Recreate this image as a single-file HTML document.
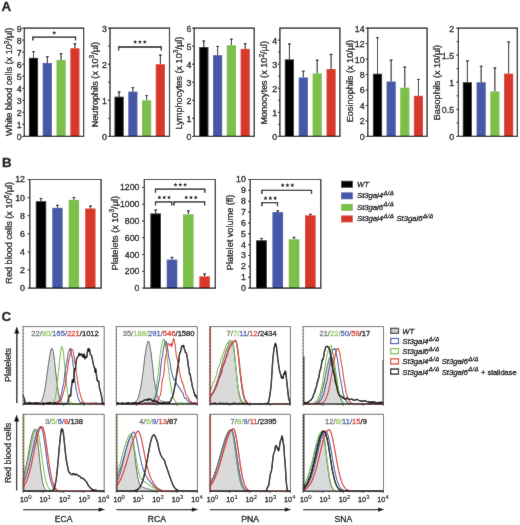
<!DOCTYPE html><html><head><meta charset="utf-8"><style>html,body{margin:0;padding:0;background:#fff;width:520px;height:525px;overflow:hidden}svg{display:block}</style></head><body><svg width="520" height="525" viewBox="0 0 520 525">
<rect width="520" height="525" fill="#fff"/>
<defs><filter id="bl" x="0" y="0" width="520" height="525" filterUnits="userSpaceOnUse"><feConvolveMatrix order="3" kernelMatrix="1 2 1 2 40.0 2 1 2 1" preserveAlpha="true" edgeMode="duplicate"/></filter></defs><g filter="url(#bl)"><rect width="520" height="525" fill="#fff"/>
<text x="1.4" y="10.9" font-size="13.4" font-weight="bold" font-family="Liberation Sans, sans-serif" stroke="#000" stroke-width="0.28">A</text>
<text x="1.9" y="167.0" font-size="13.4" font-weight="bold" font-family="Liberation Sans, sans-serif" stroke="#000" stroke-width="0.28">B</text>
<text x="1.4" y="320.9" font-size="13.4" font-weight="bold" font-family="Liberation Sans, sans-serif" stroke="#000" stroke-width="0.28">C</text>
<line x1="33.50" y1="57.82" x2="33.50" y2="51.32" stroke="#000" stroke-width="1.0"/>
<line x1="32.10" y1="51.62" x2="34.90" y2="51.62" stroke="#000" stroke-width="1.1"/>
<rect x="28.90" y="57.82" width="9.20" height="78.58" fill="#000000"/>
<line x1="47.30" y1="63.00" x2="47.30" y2="56.38" stroke="#000" stroke-width="1.0"/>
<line x1="45.90" y1="56.68" x2="48.70" y2="56.68" stroke="#000" stroke-width="1.1"/>
<rect x="42.70" y="63.00" width="9.20" height="73.40" fill="#4659a8"/>
<line x1="61.10" y1="59.99" x2="61.10" y2="53.37" stroke="#000" stroke-width="1.0"/>
<line x1="59.70" y1="53.67" x2="62.50" y2="53.67" stroke="#000" stroke-width="1.1"/>
<rect x="56.50" y="59.99" width="9.20" height="76.41" fill="#7cbf4a"/>
<line x1="74.90" y1="48.20" x2="74.90" y2="43.50" stroke="#000" stroke-width="1.0"/>
<line x1="73.50" y1="43.80" x2="76.30" y2="43.80" stroke="#000" stroke-width="1.1"/>
<rect x="70.30" y="48.20" width="9.20" height="88.20" fill="#d8392b"/>
<path d="M24.30,28.10H83.60V136.40H24.30Z" fill="none" stroke="#000" stroke-width="1.2"/>
<line x1="22.10" y1="136.40" x2="24.30" y2="136.40" stroke="#000" stroke-width="0.9"/>
<text x="21.60" y="139.87" font-size="8.8" text-anchor="end" font-family="Liberation Sans, sans-serif" stroke="#000" stroke-width="0.28">0</text>
<line x1="22.10" y1="124.37" x2="24.30" y2="124.37" stroke="#000" stroke-width="0.9"/>
<text x="21.60" y="127.83" font-size="8.8" text-anchor="end" font-family="Liberation Sans, sans-serif" stroke="#000" stroke-width="0.28">1</text>
<line x1="22.10" y1="112.33" x2="24.30" y2="112.33" stroke="#000" stroke-width="0.9"/>
<text x="21.60" y="115.80" font-size="8.8" text-anchor="end" font-family="Liberation Sans, sans-serif" stroke="#000" stroke-width="0.28">2</text>
<line x1="22.10" y1="100.30" x2="24.30" y2="100.30" stroke="#000" stroke-width="0.9"/>
<text x="21.60" y="103.77" font-size="8.8" text-anchor="end" font-family="Liberation Sans, sans-serif" stroke="#000" stroke-width="0.28">3</text>
<line x1="22.10" y1="88.27" x2="24.30" y2="88.27" stroke="#000" stroke-width="0.9"/>
<text x="21.60" y="91.73" font-size="8.8" text-anchor="end" font-family="Liberation Sans, sans-serif" stroke="#000" stroke-width="0.28">4</text>
<line x1="22.10" y1="76.23" x2="24.30" y2="76.23" stroke="#000" stroke-width="0.9"/>
<text x="21.60" y="79.70" font-size="8.8" text-anchor="end" font-family="Liberation Sans, sans-serif" stroke="#000" stroke-width="0.28">5</text>
<line x1="22.10" y1="64.20" x2="24.30" y2="64.20" stroke="#000" stroke-width="0.9"/>
<text x="21.60" y="67.67" font-size="8.8" text-anchor="end" font-family="Liberation Sans, sans-serif" stroke="#000" stroke-width="0.28">6</text>
<line x1="22.10" y1="52.17" x2="24.30" y2="52.17" stroke="#000" stroke-width="0.9"/>
<text x="21.60" y="55.63" font-size="8.8" text-anchor="end" font-family="Liberation Sans, sans-serif" stroke="#000" stroke-width="0.28">7</text>
<line x1="22.10" y1="40.13" x2="24.30" y2="40.13" stroke="#000" stroke-width="0.9"/>
<text x="21.60" y="43.60" font-size="8.8" text-anchor="end" font-family="Liberation Sans, sans-serif" stroke="#000" stroke-width="0.28">8</text>
<line x1="22.10" y1="28.10" x2="24.30" y2="28.10" stroke="#000" stroke-width="0.9"/>
<text x="21.60" y="31.57" font-size="8.8" text-anchor="end" font-family="Liberation Sans, sans-serif" stroke="#000" stroke-width="0.28">9</text>
<text transform="translate(12.30,81.80) rotate(-90)" font-size="9.15" text-anchor="middle" font-family="Liberation Sans, sans-serif" stroke="#000" stroke-width="0.28">White blood cells (x 10<tspan dy="-3.6" font-size="6.6">3</tspan><tspan dy="3.6">/µl)</tspan></text>
<path d="M32.90,40.60V37.20H75.50V40.60" fill="none" stroke="#000" stroke-width="1.3"/>
<polygon points="54.20,30.70 54.79,31.99 56.20,32.15 55.15,33.11 55.43,34.50 54.20,33.80 52.97,34.50 53.25,33.11 52.20,32.15 53.61,31.99" fill="#000"/>
<line x1="119.10" y1="96.69" x2="119.10" y2="91.64" stroke="#000" stroke-width="1.0"/>
<line x1="117.70" y1="91.94" x2="120.50" y2="91.94" stroke="#000" stroke-width="1.1"/>
<rect x="114.50" y="96.69" width="9.20" height="39.71" fill="#000000"/>
<line x1="132.85" y1="91.64" x2="132.85" y2="87.30" stroke="#000" stroke-width="1.0"/>
<line x1="131.45" y1="87.60" x2="134.25" y2="87.60" stroke="#000" stroke-width="1.1"/>
<rect x="128.25" y="91.64" width="9.20" height="44.76" fill="#4659a8"/>
<line x1="146.60" y1="100.30" x2="146.60" y2="95.25" stroke="#000" stroke-width="1.0"/>
<line x1="145.20" y1="95.55" x2="148.00" y2="95.55" stroke="#000" stroke-width="1.1"/>
<rect x="142.00" y="100.30" width="9.20" height="36.10" fill="#7cbf4a"/>
<line x1="160.35" y1="64.20" x2="160.35" y2="54.81" stroke="#000" stroke-width="1.0"/>
<line x1="158.95" y1="55.11" x2="161.75" y2="55.11" stroke="#000" stroke-width="1.1"/>
<rect x="155.75" y="64.20" width="9.20" height="72.20" fill="#d8392b"/>
<path d="M110.00,28.10H169.50V136.40H110.00Z" fill="none" stroke="#000" stroke-width="1.2"/>
<line x1="108.20" y1="118.35" x2="110.00" y2="118.35" stroke="#000" stroke-width="0.9"/>
<line x1="108.20" y1="82.25" x2="110.00" y2="82.25" stroke="#000" stroke-width="0.9"/>
<line x1="108.20" y1="46.15" x2="110.00" y2="46.15" stroke="#000" stroke-width="0.9"/>
<line x1="107.80" y1="136.40" x2="110.00" y2="136.40" stroke="#000" stroke-width="0.9"/>
<text x="106.80" y="139.87" font-size="8.8" text-anchor="end" font-family="Liberation Sans, sans-serif" stroke="#000" stroke-width="0.28">0</text>
<line x1="107.80" y1="100.30" x2="110.00" y2="100.30" stroke="#000" stroke-width="0.9"/>
<text x="106.80" y="103.77" font-size="8.8" text-anchor="end" font-family="Liberation Sans, sans-serif" stroke="#000" stroke-width="0.28">1</text>
<line x1="107.80" y1="64.20" x2="110.00" y2="64.20" stroke="#000" stroke-width="0.9"/>
<text x="106.80" y="67.67" font-size="8.8" text-anchor="end" font-family="Liberation Sans, sans-serif" stroke="#000" stroke-width="0.28">2</text>
<line x1="107.80" y1="28.10" x2="110.00" y2="28.10" stroke="#000" stroke-width="0.9"/>
<text x="106.80" y="31.57" font-size="8.8" text-anchor="end" font-family="Liberation Sans, sans-serif" stroke="#000" stroke-width="0.28">3</text>
<text transform="translate(97.90,84.60) rotate(-90)" font-size="9.15" text-anchor="middle" font-family="Liberation Sans, sans-serif" stroke="#000" stroke-width="0.28">Neutrophils (x 10<tspan dy="-3.6" font-size="6.6">3</tspan><tspan dy="3.6">/µl)</tspan></text>
<path d="M118.60,50.40V47.00H161.30V50.40" fill="none" stroke="#000" stroke-width="1.3"/>
<polygon points="135.15,39.90 135.74,41.19 137.15,41.35 136.10,42.31 136.38,43.70 135.15,43.00 133.92,43.70 134.20,42.31 133.15,41.35 134.56,41.19" fill="#000"/>
<polygon points="139.95,39.90 140.54,41.19 141.95,41.35 140.90,42.31 141.18,43.70 139.95,43.00 138.72,43.70 139.00,42.31 137.95,41.35 139.36,41.19" fill="#000"/>
<polygon points="144.75,39.90 145.34,41.19 146.75,41.35 145.70,42.31 145.98,43.70 144.75,43.00 143.52,43.70 143.80,42.31 142.75,41.35 144.16,41.19" fill="#000"/>
<line x1="203.80" y1="47.05" x2="203.80" y2="40.73" stroke="#000" stroke-width="1.0"/>
<line x1="202.40" y1="41.03" x2="205.20" y2="41.03" stroke="#000" stroke-width="1.1"/>
<rect x="199.20" y="47.05" width="9.20" height="89.35" fill="#000000"/>
<line x1="217.60" y1="55.17" x2="217.60" y2="46.15" stroke="#000" stroke-width="1.0"/>
<line x1="216.20" y1="46.45" x2="219.00" y2="46.45" stroke="#000" stroke-width="1.1"/>
<rect x="213.00" y="55.17" width="9.20" height="81.23" fill="#4659a8"/>
<line x1="231.40" y1="45.25" x2="231.40" y2="38.93" stroke="#000" stroke-width="1.0"/>
<line x1="230.00" y1="39.23" x2="232.80" y2="39.23" stroke="#000" stroke-width="1.1"/>
<rect x="226.80" y="45.25" width="9.20" height="91.15" fill="#7cbf4a"/>
<line x1="245.20" y1="48.86" x2="245.20" y2="43.44" stroke="#000" stroke-width="1.0"/>
<line x1="243.80" y1="43.74" x2="246.60" y2="43.74" stroke="#000" stroke-width="1.1"/>
<rect x="240.60" y="48.86" width="9.20" height="87.54" fill="#d8392b"/>
<path d="M194.20,28.10H254.20V136.40H194.20Z" fill="none" stroke="#000" stroke-width="1.2"/>
<line x1="192.00" y1="136.40" x2="194.20" y2="136.40" stroke="#000" stroke-width="0.9"/>
<text x="191.50" y="139.87" font-size="8.8" text-anchor="end" font-family="Liberation Sans, sans-serif" stroke="#000" stroke-width="0.28">0</text>
<line x1="192.00" y1="118.35" x2="194.20" y2="118.35" stroke="#000" stroke-width="0.9"/>
<text x="191.50" y="121.82" font-size="8.8" text-anchor="end" font-family="Liberation Sans, sans-serif" stroke="#000" stroke-width="0.28">1</text>
<line x1="192.00" y1="100.30" x2="194.20" y2="100.30" stroke="#000" stroke-width="0.9"/>
<text x="191.50" y="103.77" font-size="8.8" text-anchor="end" font-family="Liberation Sans, sans-serif" stroke="#000" stroke-width="0.28">2</text>
<line x1="192.00" y1="82.25" x2="194.20" y2="82.25" stroke="#000" stroke-width="0.9"/>
<text x="191.50" y="85.72" font-size="8.8" text-anchor="end" font-family="Liberation Sans, sans-serif" stroke="#000" stroke-width="0.28">3</text>
<line x1="192.00" y1="64.20" x2="194.20" y2="64.20" stroke="#000" stroke-width="0.9"/>
<text x="191.50" y="67.67" font-size="8.8" text-anchor="end" font-family="Liberation Sans, sans-serif" stroke="#000" stroke-width="0.28">4</text>
<line x1="192.00" y1="46.15" x2="194.20" y2="46.15" stroke="#000" stroke-width="0.9"/>
<text x="191.50" y="49.62" font-size="8.8" text-anchor="end" font-family="Liberation Sans, sans-serif" stroke="#000" stroke-width="0.28">5</text>
<line x1="192.00" y1="28.10" x2="194.20" y2="28.10" stroke="#000" stroke-width="0.9"/>
<text x="191.50" y="31.57" font-size="8.8" text-anchor="end" font-family="Liberation Sans, sans-serif" stroke="#000" stroke-width="0.28">6</text>
<text transform="translate(181.90,83.10) rotate(-90)" font-size="9.15" text-anchor="middle" font-family="Liberation Sans, sans-serif" stroke="#000" stroke-width="0.28">Lymphocytes (x 10<tspan dy="-3.6" font-size="6.6">3</tspan><tspan dy="3.6">/µl)</tspan></text>
<line x1="289.40" y1="59.39" x2="289.40" y2="43.74" stroke="#000" stroke-width="1.0"/>
<line x1="288.00" y1="44.04" x2="290.80" y2="44.04" stroke="#000" stroke-width="1.1"/>
<rect x="284.80" y="59.39" width="9.20" height="77.01" fill="#000000"/>
<line x1="303.30" y1="77.44" x2="303.30" y2="70.94" stroke="#000" stroke-width="1.0"/>
<line x1="301.90" y1="71.24" x2="304.70" y2="71.24" stroke="#000" stroke-width="1.1"/>
<rect x="298.70" y="77.44" width="9.20" height="58.96" fill="#4659a8"/>
<line x1="317.20" y1="73.35" x2="317.20" y2="59.87" stroke="#000" stroke-width="1.0"/>
<line x1="315.80" y1="60.17" x2="318.60" y2="60.17" stroke="#000" stroke-width="1.1"/>
<rect x="312.60" y="73.35" width="9.20" height="63.05" fill="#7cbf4a"/>
<line x1="331.10" y1="69.01" x2="331.10" y2="54.09" stroke="#000" stroke-width="1.0"/>
<line x1="329.70" y1="54.39" x2="332.50" y2="54.39" stroke="#000" stroke-width="1.1"/>
<rect x="326.50" y="69.01" width="9.20" height="67.39" fill="#d8392b"/>
<path d="M279.90,28.10H339.90V136.40H279.90Z" fill="none" stroke="#000" stroke-width="1.2"/>
<line x1="278.10" y1="124.37" x2="279.90" y2="124.37" stroke="#000" stroke-width="0.9"/>
<line x1="278.10" y1="100.30" x2="279.90" y2="100.30" stroke="#000" stroke-width="0.9"/>
<line x1="278.10" y1="76.23" x2="279.90" y2="76.23" stroke="#000" stroke-width="0.9"/>
<line x1="278.10" y1="52.17" x2="279.90" y2="52.17" stroke="#000" stroke-width="0.9"/>
<line x1="277.70" y1="136.40" x2="279.90" y2="136.40" stroke="#000" stroke-width="0.9"/>
<text x="277.20" y="139.87" font-size="8.8" text-anchor="end" font-family="Liberation Sans, sans-serif" stroke="#000" stroke-width="0.28">0</text>
<line x1="277.70" y1="112.33" x2="279.90" y2="112.33" stroke="#000" stroke-width="0.9"/>
<text x="277.20" y="115.80" font-size="8.8" text-anchor="end" font-family="Liberation Sans, sans-serif" stroke="#000" stroke-width="0.28">1</text>
<line x1="277.70" y1="88.27" x2="279.90" y2="88.27" stroke="#000" stroke-width="0.9"/>
<text x="277.20" y="91.73" font-size="8.8" text-anchor="end" font-family="Liberation Sans, sans-serif" stroke="#000" stroke-width="0.28">2</text>
<line x1="277.70" y1="64.20" x2="279.90" y2="64.20" stroke="#000" stroke-width="0.9"/>
<text x="277.20" y="67.67" font-size="8.8" text-anchor="end" font-family="Liberation Sans, sans-serif" stroke="#000" stroke-width="0.28">3</text>
<line x1="277.70" y1="40.13" x2="279.90" y2="40.13" stroke="#000" stroke-width="0.9"/>
<text x="277.20" y="43.60" font-size="8.8" text-anchor="end" font-family="Liberation Sans, sans-serif" stroke="#000" stroke-width="0.28">4</text>
<text transform="translate(267.30,82.80) rotate(-90)" font-size="9.15" text-anchor="middle" font-family="Liberation Sans, sans-serif" stroke="#000" stroke-width="0.28">Monocytes (x 10<tspan dy="-3.6" font-size="6.6">2</tspan><tspan dy="3.6">/µl)</tspan></text>
<line x1="377.50" y1="73.74" x2="377.50" y2="37.38" stroke="#000" stroke-width="1.0"/>
<line x1="376.10" y1="37.68" x2="378.90" y2="37.68" stroke="#000" stroke-width="1.1"/>
<rect x="372.90" y="73.74" width="9.20" height="62.66" fill="#000000"/>
<line x1="391.15" y1="81.48" x2="391.15" y2="59.82" stroke="#000" stroke-width="1.0"/>
<line x1="389.75" y1="60.12" x2="392.55" y2="60.12" stroke="#000" stroke-width="1.1"/>
<rect x="386.55" y="81.48" width="9.20" height="54.92" fill="#4659a8"/>
<line x1="404.80" y1="87.66" x2="404.80" y2="66.78" stroke="#000" stroke-width="1.0"/>
<line x1="403.40" y1="67.08" x2="406.20" y2="67.08" stroke="#000" stroke-width="1.1"/>
<rect x="400.20" y="87.66" width="9.20" height="48.74" fill="#7cbf4a"/>
<line x1="418.45" y1="95.79" x2="418.45" y2="79.16" stroke="#000" stroke-width="1.0"/>
<line x1="417.05" y1="79.46" x2="419.85" y2="79.46" stroke="#000" stroke-width="1.1"/>
<rect x="413.85" y="95.79" width="9.20" height="40.61" fill="#d8392b"/>
<path d="M367.80,28.10H427.10V136.40H367.80Z" fill="none" stroke="#000" stroke-width="1.2"/>
<line x1="365.60" y1="136.40" x2="367.80" y2="136.40" stroke="#000" stroke-width="0.9"/>
<text x="364.60" y="139.87" font-size="8.8" text-anchor="end" font-family="Liberation Sans, sans-serif" stroke="#000" stroke-width="0.28">0</text>
<line x1="365.60" y1="120.93" x2="367.80" y2="120.93" stroke="#000" stroke-width="0.9"/>
<text x="364.60" y="124.40" font-size="8.8" text-anchor="end" font-family="Liberation Sans, sans-serif" stroke="#000" stroke-width="0.28">2</text>
<line x1="365.60" y1="105.46" x2="367.80" y2="105.46" stroke="#000" stroke-width="0.9"/>
<text x="364.60" y="108.93" font-size="8.8" text-anchor="end" font-family="Liberation Sans, sans-serif" stroke="#000" stroke-width="0.28">4</text>
<line x1="365.60" y1="89.99" x2="367.80" y2="89.99" stroke="#000" stroke-width="0.9"/>
<text x="364.60" y="93.45" font-size="8.8" text-anchor="end" font-family="Liberation Sans, sans-serif" stroke="#000" stroke-width="0.28">6</text>
<line x1="365.60" y1="74.51" x2="367.80" y2="74.51" stroke="#000" stroke-width="0.9"/>
<text x="364.60" y="77.98" font-size="8.8" text-anchor="end" font-family="Liberation Sans, sans-serif" stroke="#000" stroke-width="0.28">8</text>
<line x1="365.60" y1="59.04" x2="367.80" y2="59.04" stroke="#000" stroke-width="0.9"/>
<text x="364.60" y="62.51" font-size="8.8" text-anchor="end" font-family="Liberation Sans, sans-serif" stroke="#000" stroke-width="0.28">10</text>
<line x1="365.60" y1="43.57" x2="367.80" y2="43.57" stroke="#000" stroke-width="0.9"/>
<text x="364.60" y="47.04" font-size="8.8" text-anchor="end" font-family="Liberation Sans, sans-serif" stroke="#000" stroke-width="0.28">12</text>
<line x1="365.60" y1="28.10" x2="367.80" y2="28.10" stroke="#000" stroke-width="0.9"/>
<text x="364.60" y="31.57" font-size="8.8" text-anchor="end" font-family="Liberation Sans, sans-serif" stroke="#000" stroke-width="0.28">14</text>
<text transform="translate(352.70,81.10) rotate(-90)" font-size="9.15" text-anchor="middle" font-family="Liberation Sans, sans-serif" stroke="#000" stroke-width="0.28">Eosinophils (x 10/µl)</text>
<line x1="467.40" y1="82.25" x2="467.40" y2="60.59" stroke="#000" stroke-width="1.0"/>
<line x1="466.00" y1="60.89" x2="468.80" y2="60.89" stroke="#000" stroke-width="1.1"/>
<rect x="462.80" y="82.25" width="9.20" height="54.15" fill="#000000"/>
<line x1="481.15" y1="82.25" x2="481.15" y2="66.00" stroke="#000" stroke-width="1.0"/>
<line x1="479.75" y1="66.30" x2="482.55" y2="66.30" stroke="#000" stroke-width="1.1"/>
<rect x="476.55" y="82.25" width="9.20" height="54.15" fill="#4659a8"/>
<line x1="494.90" y1="91.46" x2="494.90" y2="67.63" stroke="#000" stroke-width="1.0"/>
<line x1="493.50" y1="67.93" x2="496.30" y2="67.93" stroke="#000" stroke-width="1.1"/>
<rect x="490.30" y="91.46" width="9.20" height="44.94" fill="#7cbf4a"/>
<line x1="508.65" y1="73.59" x2="508.65" y2="41.64" stroke="#000" stroke-width="1.0"/>
<line x1="507.25" y1="41.94" x2="510.05" y2="41.94" stroke="#000" stroke-width="1.1"/>
<rect x="504.05" y="73.59" width="9.20" height="62.81" fill="#d8392b"/>
<path d="M458.40,28.10H517.30V136.40H458.40Z" fill="none" stroke="#000" stroke-width="1.2"/>
<line x1="456.60" y1="122.86" x2="458.40" y2="122.86" stroke="#000" stroke-width="0.9"/>
<line x1="456.60" y1="95.79" x2="458.40" y2="95.79" stroke="#000" stroke-width="0.9"/>
<line x1="456.60" y1="68.71" x2="458.40" y2="68.71" stroke="#000" stroke-width="0.9"/>
<line x1="456.60" y1="41.64" x2="458.40" y2="41.64" stroke="#000" stroke-width="0.9"/>
<line x1="456.20" y1="136.40" x2="458.40" y2="136.40" stroke="#000" stroke-width="0.9"/>
<text x="454.10" y="139.87" font-size="8.8" text-anchor="end" font-family="Liberation Sans, sans-serif" stroke="#000" stroke-width="0.28">0</text>
<line x1="456.20" y1="109.33" x2="458.40" y2="109.33" stroke="#000" stroke-width="0.9"/>
<text x="454.10" y="112.79" font-size="8.8" text-anchor="end" font-family="Liberation Sans, sans-serif" stroke="#000" stroke-width="0.28">0.5</text>
<line x1="456.20" y1="82.25" x2="458.40" y2="82.25" stroke="#000" stroke-width="0.9"/>
<text x="454.10" y="85.72" font-size="8.8" text-anchor="end" font-family="Liberation Sans, sans-serif" stroke="#000" stroke-width="0.28">1</text>
<line x1="456.20" y1="55.17" x2="458.40" y2="55.17" stroke="#000" stroke-width="0.9"/>
<text x="454.10" y="58.64" font-size="8.8" text-anchor="end" font-family="Liberation Sans, sans-serif" stroke="#000" stroke-width="0.28">1.5</text>
<line x1="456.20" y1="28.10" x2="458.40" y2="28.10" stroke="#000" stroke-width="0.9"/>
<text x="454.10" y="31.57" font-size="8.8" text-anchor="end" font-family="Liberation Sans, sans-serif" stroke="#000" stroke-width="0.28">2</text>
<text transform="translate(440.10,82.60) rotate(-90)" font-size="9.15" text-anchor="middle" font-family="Liberation Sans, sans-serif" stroke="#000" stroke-width="0.28">Basophils (x 10/µl)</text>
<line x1="41.00" y1="201.22" x2="41.00" y2="198.14" stroke="#000" stroke-width="1.0"/>
<line x1="39.60" y1="198.44" x2="42.40" y2="198.44" stroke="#000" stroke-width="1.1"/>
<rect x="35.80" y="201.22" width="10.40" height="86.88" fill="#000000"/>
<line x1="57.45" y1="207.83" x2="57.45" y2="205.02" stroke="#000" stroke-width="1.0"/>
<line x1="56.05" y1="205.32" x2="58.85" y2="205.32" stroke="#000" stroke-width="1.1"/>
<rect x="52.25" y="207.83" width="10.40" height="80.27" fill="#4659a8"/>
<line x1="73.90" y1="199.86" x2="73.90" y2="197.15" stroke="#000" stroke-width="1.0"/>
<line x1="72.50" y1="197.45" x2="75.30" y2="197.45" stroke="#000" stroke-width="1.1"/>
<rect x="68.70" y="199.86" width="10.40" height="88.24" fill="#7cbf4a"/>
<line x1="90.35" y1="208.46" x2="90.35" y2="205.75" stroke="#000" stroke-width="1.0"/>
<line x1="88.95" y1="206.05" x2="91.75" y2="206.05" stroke="#000" stroke-width="1.1"/>
<rect x="85.15" y="208.46" width="10.40" height="79.64" fill="#d8392b"/>
<path d="M29.80,179.50H101.10V288.10H29.80Z" fill="none" stroke="#000" stroke-width="1.2"/>
<line x1="27.60" y1="288.10" x2="29.80" y2="288.10" stroke="#000" stroke-width="0.9"/>
<text x="25.00" y="291.07" font-size="8.8" text-anchor="end" font-family="Liberation Sans, sans-serif" stroke="#000" stroke-width="0.28">0</text>
<line x1="27.60" y1="270.00" x2="29.80" y2="270.00" stroke="#000" stroke-width="0.9"/>
<text x="25.00" y="272.97" font-size="8.8" text-anchor="end" font-family="Liberation Sans, sans-serif" stroke="#000" stroke-width="0.28">2</text>
<line x1="27.60" y1="251.90" x2="29.80" y2="251.90" stroke="#000" stroke-width="0.9"/>
<text x="25.00" y="254.87" font-size="8.8" text-anchor="end" font-family="Liberation Sans, sans-serif" stroke="#000" stroke-width="0.28">4</text>
<line x1="27.60" y1="233.80" x2="29.80" y2="233.80" stroke="#000" stroke-width="0.9"/>
<text x="25.00" y="236.77" font-size="8.8" text-anchor="end" font-family="Liberation Sans, sans-serif" stroke="#000" stroke-width="0.28">6</text>
<line x1="27.60" y1="215.70" x2="29.80" y2="215.70" stroke="#000" stroke-width="0.9"/>
<text x="25.00" y="218.67" font-size="8.8" text-anchor="end" font-family="Liberation Sans, sans-serif" stroke="#000" stroke-width="0.28">8</text>
<line x1="27.60" y1="197.60" x2="29.80" y2="197.60" stroke="#000" stroke-width="0.9"/>
<text x="25.00" y="200.57" font-size="8.8" text-anchor="end" font-family="Liberation Sans, sans-serif" stroke="#000" stroke-width="0.28">10</text>
<line x1="27.60" y1="179.50" x2="29.80" y2="179.50" stroke="#000" stroke-width="0.9"/>
<text x="25.00" y="182.47" font-size="8.8" text-anchor="end" font-family="Liberation Sans, sans-serif" stroke="#000" stroke-width="0.28">12</text>
<text transform="translate(12.20,232.80) rotate(-90)" font-size="9.15" text-anchor="middle" font-family="Liberation Sans, sans-serif" stroke="#000" stroke-width="0.28">Red blood cells (x 10<tspan dy="-3.6" font-size="6.6">6</tspan><tspan dy="3.6">/µl)</tspan></text>
<line x1="155.70" y1="213.46" x2="155.70" y2="209.69" stroke="#000" stroke-width="1.0"/>
<line x1="154.30" y1="209.99" x2="157.10" y2="209.99" stroke="#000" stroke-width="1.1"/>
<rect x="150.40" y="213.46" width="10.60" height="74.64" fill="#000000"/>
<line x1="172.00" y1="259.59" x2="172.00" y2="257.07" stroke="#000" stroke-width="1.0"/>
<line x1="170.60" y1="257.37" x2="173.40" y2="257.37" stroke="#000" stroke-width="1.1"/>
<rect x="166.70" y="259.59" width="10.60" height="28.51" fill="#4659a8"/>
<line x1="188.30" y1="214.30" x2="188.30" y2="210.53" stroke="#000" stroke-width="1.0"/>
<line x1="186.90" y1="210.83" x2="189.70" y2="210.83" stroke="#000" stroke-width="1.1"/>
<rect x="183.00" y="214.30" width="10.60" height="73.80" fill="#7cbf4a"/>
<line x1="204.60" y1="276.36" x2="204.60" y2="273.68" stroke="#000" stroke-width="1.0"/>
<line x1="203.20" y1="273.98" x2="206.00" y2="273.98" stroke="#000" stroke-width="1.1"/>
<rect x="199.30" y="276.36" width="10.60" height="11.74" fill="#d8392b"/>
<path d="M144.30,179.50H215.30V288.10H144.30Z" fill="none" stroke="#000" stroke-width="1.2"/>
<line x1="142.10" y1="288.10" x2="144.30" y2="288.10" stroke="#000" stroke-width="0.9"/>
<text x="139.50" y="291.07" font-size="8.8" text-anchor="end" font-family="Liberation Sans, sans-serif" stroke="#000" stroke-width="0.28">0</text>
<line x1="142.10" y1="271.33" x2="144.30" y2="271.33" stroke="#000" stroke-width="0.9"/>
<text x="139.50" y="274.30" font-size="8.8" text-anchor="end" font-family="Liberation Sans, sans-serif" stroke="#000" stroke-width="0.28">200</text>
<line x1="142.10" y1="254.56" x2="144.30" y2="254.56" stroke="#000" stroke-width="0.9"/>
<text x="139.50" y="257.52" font-size="8.8" text-anchor="end" font-family="Liberation Sans, sans-serif" stroke="#000" stroke-width="0.28">400</text>
<line x1="142.10" y1="237.78" x2="144.30" y2="237.78" stroke="#000" stroke-width="0.9"/>
<text x="139.50" y="240.75" font-size="8.8" text-anchor="end" font-family="Liberation Sans, sans-serif" stroke="#000" stroke-width="0.28">600</text>
<line x1="142.10" y1="221.01" x2="144.30" y2="221.01" stroke="#000" stroke-width="0.9"/>
<text x="139.50" y="223.98" font-size="8.8" text-anchor="end" font-family="Liberation Sans, sans-serif" stroke="#000" stroke-width="0.28">800</text>
<line x1="142.10" y1="204.24" x2="144.30" y2="204.24" stroke="#000" stroke-width="0.9"/>
<text x="139.50" y="207.21" font-size="8.8" text-anchor="end" font-family="Liberation Sans, sans-serif" stroke="#000" stroke-width="0.28">1000</text>
<line x1="142.10" y1="187.47" x2="144.30" y2="187.47" stroke="#000" stroke-width="0.9"/>
<text x="139.50" y="190.43" font-size="8.8" text-anchor="end" font-family="Liberation Sans, sans-serif" stroke="#000" stroke-width="0.28">1200</text>
<text transform="translate(117.50,233.20) rotate(-90)" font-size="9.15" text-anchor="middle" font-family="Liberation Sans, sans-serif" stroke="#000" stroke-width="0.28">Platelets (x 10<tspan dy="-3.6" font-size="6.6">3</tspan><tspan dy="3.6">/µl)</tspan></text>
<path d="M155.50,205.50V201.90H171.70V205.50" fill="none" stroke="#000" stroke-width="1.3"/>
<polygon points="159.40,195.40 159.99,196.69 161.40,196.85 160.35,197.81 160.63,199.20 159.40,198.50 158.17,199.20 158.45,197.81 157.40,196.85 158.81,196.69" fill="#000"/>
<polygon points="164.20,195.40 164.79,196.69 166.20,196.85 165.15,197.81 165.43,199.20 164.20,198.50 162.97,199.20 163.25,197.81 162.20,196.85 163.61,196.69" fill="#000"/>
<polygon points="169.00,195.40 169.59,196.69 171.00,196.85 169.95,197.81 170.23,199.20 169.00,198.50 167.77,199.20 168.05,197.81 167.00,196.85 168.41,196.69" fill="#000"/>
<path d="M174.00,205.50V201.90H204.60V205.50" fill="none" stroke="#000" stroke-width="1.3"/>
<polygon points="186.20,195.40 186.79,196.69 188.20,196.85 187.15,197.81 187.43,199.20 186.20,198.50 184.97,199.20 185.25,197.81 184.20,196.85 185.61,196.69" fill="#000"/>
<polygon points="191.00,195.40 191.59,196.69 193.00,196.85 191.95,197.81 192.23,199.20 191.00,198.50 189.77,199.20 190.05,197.81 189.00,196.85 190.41,196.69" fill="#000"/>
<polygon points="195.80,195.40 196.39,196.69 197.80,196.85 196.75,197.81 197.03,199.20 195.80,198.50 194.57,199.20 194.85,197.81 193.80,196.85 195.21,196.69" fill="#000"/>
<path d="M155.50,192.80V189.20H204.80V192.80" fill="none" stroke="#000" stroke-width="1.3"/>
<polygon points="175.50,182.70 176.09,183.99 177.50,184.15 176.45,185.11 176.73,186.50 175.50,185.80 174.27,186.50 174.55,185.11 173.50,184.15 174.91,183.99" fill="#000"/>
<polygon points="180.30,182.70 180.89,183.99 182.30,184.15 181.25,185.11 181.53,186.50 180.30,185.80 179.07,186.50 179.35,185.11 178.30,184.15 179.71,183.99" fill="#000"/>
<polygon points="185.10,182.70 185.69,183.99 187.10,184.15 186.05,185.11 186.33,186.50 185.10,185.80 183.87,186.50 184.15,185.11 183.10,184.15 184.51,183.99" fill="#000"/>
<line x1="261.45" y1="240.32" x2="261.45" y2="238.14" stroke="#000" stroke-width="1.0"/>
<line x1="260.05" y1="238.44" x2="262.85" y2="238.44" stroke="#000" stroke-width="1.1"/>
<rect x="256.10" y="240.32" width="10.70" height="47.78" fill="#000000"/>
<line x1="277.75" y1="212.08" x2="277.75" y2="210.45" stroke="#000" stroke-width="1.0"/>
<line x1="276.35" y1="210.75" x2="279.15" y2="210.75" stroke="#000" stroke-width="1.1"/>
<rect x="272.40" y="212.08" width="10.70" height="76.02" fill="#4659a8"/>
<line x1="294.05" y1="239.23" x2="294.05" y2="237.06" stroke="#000" stroke-width="1.0"/>
<line x1="292.65" y1="237.36" x2="295.45" y2="237.36" stroke="#000" stroke-width="1.1"/>
<rect x="288.70" y="239.23" width="10.70" height="48.87" fill="#7cbf4a"/>
<line x1="310.35" y1="215.34" x2="310.35" y2="214.03" stroke="#000" stroke-width="1.0"/>
<line x1="308.95" y1="214.33" x2="311.75" y2="214.33" stroke="#000" stroke-width="1.1"/>
<rect x="305.00" y="215.34" width="10.70" height="72.76" fill="#d8392b"/>
<path d="M250.20,179.50H320.80V288.10H250.20Z" fill="none" stroke="#000" stroke-width="1.2"/>
<line x1="248.00" y1="288.10" x2="250.20" y2="288.10" stroke="#000" stroke-width="0.9"/>
<text x="245.90" y="291.07" font-size="8.8" text-anchor="end" font-family="Liberation Sans, sans-serif" stroke="#000" stroke-width="0.28">0</text>
<line x1="248.00" y1="277.24" x2="250.20" y2="277.24" stroke="#000" stroke-width="0.9"/>
<text x="245.90" y="280.21" font-size="8.8" text-anchor="end" font-family="Liberation Sans, sans-serif" stroke="#000" stroke-width="0.28">1</text>
<line x1="248.00" y1="266.38" x2="250.20" y2="266.38" stroke="#000" stroke-width="0.9"/>
<text x="245.90" y="269.35" font-size="8.8" text-anchor="end" font-family="Liberation Sans, sans-serif" stroke="#000" stroke-width="0.28">2</text>
<line x1="248.00" y1="255.52" x2="250.20" y2="255.52" stroke="#000" stroke-width="0.9"/>
<text x="245.90" y="258.49" font-size="8.8" text-anchor="end" font-family="Liberation Sans, sans-serif" stroke="#000" stroke-width="0.28">3</text>
<line x1="248.00" y1="244.66" x2="250.20" y2="244.66" stroke="#000" stroke-width="0.9"/>
<text x="245.90" y="247.63" font-size="8.8" text-anchor="end" font-family="Liberation Sans, sans-serif" stroke="#000" stroke-width="0.28">4</text>
<line x1="248.00" y1="233.80" x2="250.20" y2="233.80" stroke="#000" stroke-width="0.9"/>
<text x="245.90" y="236.77" font-size="8.8" text-anchor="end" font-family="Liberation Sans, sans-serif" stroke="#000" stroke-width="0.28">5</text>
<line x1="248.00" y1="222.94" x2="250.20" y2="222.94" stroke="#000" stroke-width="0.9"/>
<text x="245.90" y="225.91" font-size="8.8" text-anchor="end" font-family="Liberation Sans, sans-serif" stroke="#000" stroke-width="0.28">6</text>
<line x1="248.00" y1="212.08" x2="250.20" y2="212.08" stroke="#000" stroke-width="0.9"/>
<text x="245.90" y="215.05" font-size="8.8" text-anchor="end" font-family="Liberation Sans, sans-serif" stroke="#000" stroke-width="0.28">7</text>
<line x1="248.00" y1="201.22" x2="250.20" y2="201.22" stroke="#000" stroke-width="0.9"/>
<text x="245.90" y="204.19" font-size="8.8" text-anchor="end" font-family="Liberation Sans, sans-serif" stroke="#000" stroke-width="0.28">8</text>
<line x1="248.00" y1="190.36" x2="250.20" y2="190.36" stroke="#000" stroke-width="0.9"/>
<text x="245.90" y="193.33" font-size="8.8" text-anchor="end" font-family="Liberation Sans, sans-serif" stroke="#000" stroke-width="0.28">9</text>
<line x1="248.00" y1="179.50" x2="250.20" y2="179.50" stroke="#000" stroke-width="0.9"/>
<text x="245.90" y="182.47" font-size="8.8" text-anchor="end" font-family="Liberation Sans, sans-serif" stroke="#000" stroke-width="0.28">10</text>
<text transform="translate(233.30,232.40) rotate(-90)" font-size="9.15" text-anchor="middle" font-family="Liberation Sans, sans-serif" stroke="#000" stroke-width="0.28">Platelet volume (fl)</text>
<path d="M261.90,206.20V202.60H277.50V206.20" fill="none" stroke="#000" stroke-width="1.3"/>
<polygon points="265.50,196.10 266.09,197.39 267.50,197.55 266.45,198.51 266.73,199.90 265.50,199.20 264.27,199.90 264.55,198.51 263.50,197.55 264.91,197.39" fill="#000"/>
<polygon points="270.30,196.10 270.89,197.39 272.30,197.55 271.25,198.51 271.53,199.90 270.30,199.20 269.07,199.90 269.35,198.51 268.30,197.55 269.71,197.39" fill="#000"/>
<polygon points="275.10,196.10 275.69,197.39 277.10,197.55 276.05,198.51 276.33,199.90 275.10,199.20 273.87,199.90 274.15,198.51 273.10,197.55 274.51,197.39" fill="#000"/>
<path d="M261.90,193.90V190.30H311.50V193.90" fill="none" stroke="#000" stroke-width="1.3"/>
<polygon points="282.70,183.10 283.29,184.39 284.70,184.55 283.65,185.51 283.93,186.90 282.70,186.20 281.47,186.90 281.75,185.51 280.70,184.55 282.11,184.39" fill="#000"/>
<polygon points="287.50,183.10 288.09,184.39 289.50,184.55 288.45,185.51 288.73,186.90 287.50,186.20 286.27,186.90 286.55,185.51 285.50,184.55 286.91,184.39" fill="#000"/>
<polygon points="292.30,183.10 292.89,184.39 294.30,184.55 293.25,185.51 293.53,186.90 292.30,186.20 291.07,186.90 291.35,185.51 290.30,184.55 291.71,184.39" fill="#000"/>
<rect x="341.1" y="180.80" width="11.7" height="6.9" fill="#000000"/>
<text x="357.0" y="186.50" font-size="7.7" font-family="Liberation Sans, sans-serif" stroke="#000" stroke-width="0.28"><tspan font-style="italic">WT</tspan></text>
<rect x="341.1" y="192.35" width="11.7" height="6.9" fill="#4659a8"/>
<text x="357.0" y="198.05" font-size="7.7" font-family="Liberation Sans, sans-serif" stroke="#000" stroke-width="0.28"><tspan font-style="italic">St3gal4</tspan><tspan dx="0.4" dy="-3.2" font-size="6.1" letter-spacing="0.3" font-style="italic">Δ/Δ</tspan></text>
<rect x="341.1" y="203.90" width="11.7" height="6.9" fill="#7cbf4a"/>
<text x="357.0" y="209.60" font-size="7.7" font-family="Liberation Sans, sans-serif" stroke="#000" stroke-width="0.28"><tspan font-style="italic">St3gal6</tspan><tspan dx="0.4" dy="-3.2" font-size="6.1" letter-spacing="0.3" font-style="italic">Δ/Δ</tspan></text>
<rect x="341.1" y="215.45" width="11.7" height="6.9" fill="#d8392b"/>
<text x="357.0" y="221.15" font-size="7.7" font-family="Liberation Sans, sans-serif" stroke="#000" stroke-width="0.28"><tspan font-style="italic">St3gal4</tspan><tspan dx="0.4" dy="-3.2" font-size="6.1" letter-spacing="0.3" font-style="italic">Δ/Δ</tspan><tspan dy="3.2"> </tspan><tspan font-style="italic">St3gal6</tspan><tspan dx="0.4" dy="-3.2" font-size="6.1" letter-spacing="0.3" font-style="italic">Δ/Δ</tspan></text>
<line x1="16.8" y1="403" x2="16.8" y2="331.4" stroke="#000" stroke-width="1.3"/>
<path d="M16.8,326.4 L14.200000000000001,333.4 L19.400000000000002,333.4Z" fill="#000"/>
<text transform="translate(11.2,365) rotate(-90)" font-size="8.8" text-anchor="middle" font-family="Liberation Sans, sans-serif" stroke="#000" stroke-width="0.28">Platelets</text>
<line x1="16.6" y1="490.5" x2="16.6" y2="419.6" stroke="#000" stroke-width="1.3"/>
<path d="M16.6,414.6 L14.000000000000002,421.6 L19.200000000000003,421.6Z" fill="#000"/>
<text transform="translate(11.2,453) rotate(-90)" font-size="8.8" text-anchor="middle" font-family="Liberation Sans, sans-serif" stroke="#000" stroke-width="0.28">Red blood cells</text>
<path d="M23.2,403.4 L23.8,403.5 L24.4,403.8 L25.0,403.5 L25.6,403.4 L26.2,403.7 L26.8,403.9 L27.4,403.6 L28.0,403.4 L28.6,403.4 L29.2,403.2 L29.8,403.5 L30.4,403.5 L31.0,403.6 L31.6,403.5 L32.2,403.5 L32.8,403.4 L33.4,403.9 L34.0,403.6 L34.6,403.7 L35.2,403.5 L35.8,403.6 L36.4,403.4 L37.0,403.2 L37.6,403.1 L38.2,403.1 L38.8,403.5 L39.4,403.1 L40.0,402.6 L40.6,402.0 L41.2,401.5 L41.8,400.2 L42.4,399.0 L43.0,397.5 L43.6,395.1 L44.2,392.9 L44.8,389.4 L45.4,386.7 L46.0,382.2 L46.6,378.4 L47.2,373.6 L47.8,369.1 L48.4,364.5 L49.0,360.7 L49.6,356.5 L50.2,352.9 L50.8,350.1 L51.4,348.7 L52.0,348.3 L52.6,348.9 L53.2,351.8 L53.8,354.4 L54.4,360.4 L55.0,365.1 L55.6,371.4 L56.2,376.0 L56.8,381.2 L57.4,385.4 L58.0,390.2 L58.6,393.8 L59.2,396.6 L59.8,398.6 L60.4,399.7 L61.0,401.0 L61.6,401.8 L62.2,402.4 L62.8,403.1 L63.4,403.4 L64.0,403.5 L64.6,403.4 L65.2,403.4 L65.8,403.3 L66.4,403.5 L67.0,403.4 L67.6,403.4 L68.2,403.6 L68.8,403.4 L69.4,403.7 L70.0,403.8 L70.6,403.8 L71.2,403.1 L71.8,403.6 L72.4,403.5 L73.0,403.4 L73.6,403.4 L74.2,403.5 L74.8,403.8 L75.4,403.6 L76.0,403.5 L76.6,403.6 L77.2,403.7 L77.8,403.6 L78.4,403.6 L79.0,403.5 L79.6,403.7 L80.2,403.9 L80.8,403.8 L81.4,403.5 L82.0,403.3 L82.6,403.4 L83.2,403.4 L83.8,403.6 L84.4,403.3 L85.0,403.4 L85.6,403.3 L86.2,403.6 L86.8,403.4 L87.4,403.4 L88.0,403.5 L88.6,403.7 L89.2,403.6 L89.8,403.3 L90.4,403.6 L91.0,403.7 L91.6,403.6 L92.2,403.3 L92.8,403.1 L93.4,403.5 L94.0,403.4 L94.6,403.4 L95.2,403.4 L95.8,403.4 L96.4,403.5 L97.0,403.4 L97.6,403.5 L98.2,403.3 L98.8,403.3 L99.4,403.6 L100.0,403.6 L100.6,403.4 L101.2,403.5 L101.8,403.5 L102.4,403.5 L103.0,403.5 L103.6,403.3 L104.2,403.7 L104.2,404.0 L23.2,404.0Z" fill="#dadada" stroke="#606060" stroke-width="1.0" stroke-linejoin="round"/>
<path d="M23.2,403.4 L23.8,403.6 L24.4,403.8 L25.0,403.6 L25.6,403.4 L26.2,403.7 L26.8,403.5 L27.4,403.6 L28.0,403.6 L28.6,403.2 L29.2,403.4 L29.8,403.3 L30.4,403.2 L31.0,403.4 L31.6,403.6 L32.2,403.5 L32.8,403.4 L33.4,403.1 L34.0,403.4 L34.6,403.5 L35.2,403.8 L35.8,404.0 L36.4,404.0 L37.0,403.7 L37.6,403.8 L38.2,403.7 L38.8,403.6 L39.4,403.5 L40.0,403.8 L40.6,403.3 L41.2,403.4 L41.8,403.2 L42.4,403.3 L43.0,403.0 L43.6,402.9 L44.2,403.4 L44.8,403.7 L45.4,403.2 L46.0,403.2 L46.6,403.7 L47.2,403.6 L47.8,403.7 L48.4,403.4 L49.0,403.4 L49.6,403.0 L50.2,403.3 L50.8,403.2 L51.4,403.2 L52.0,403.1 L52.6,402.8 L53.2,402.2 L53.8,401.0 L54.4,399.9 L55.0,398.6 L55.6,396.0 L56.2,392.6 L56.8,387.4 L57.4,383.4 L58.0,376.8 L58.6,370.4 L59.2,364.7 L59.8,359.0 L60.4,354.7 L61.0,348.6 L61.6,346.7 L62.2,346.8 L62.8,348.9 L63.4,351.6 L64.0,358.9 L64.6,363.6 L65.2,370.5 L65.8,375.8 L66.4,382.9 L67.0,389.2 L67.6,392.8 L68.2,397.0 L68.8,399.2 L69.4,401.1 L70.0,402.1 L70.6,402.6 L71.2,403.3 L71.8,403.0 L72.4,403.3 L73.0,403.7 L73.6,403.8 L74.2,403.6 L74.8,403.3 L75.4,403.5 L76.0,403.7 L76.6,403.4 L77.2,403.6 L77.8,403.2 L78.4,403.5 L79.0,404.0 L79.6,403.7 L80.2,403.4 L80.8,403.5 L81.4,403.4 L82.0,403.3 L82.6,403.3 L83.2,403.2 L83.8,403.6 L84.4,403.3 L85.0,403.9 L85.6,403.8 L86.2,403.7 L86.8,403.2 L87.4,403.2 L88.0,403.4 L88.6,403.5 L89.2,403.5 L89.8,403.5 L90.4,403.2 L91.0,403.5 L91.6,403.4 L92.2,403.3 L92.8,403.6 L93.4,403.4 L94.0,403.6 L94.6,403.4 L95.2,403.5 L95.8,403.4 L96.4,403.2 L97.0,403.5 L97.6,403.7 L98.2,403.9 L98.8,403.7 L99.4,403.3 L100.0,403.4 L100.6,403.7 L101.2,403.6 L101.8,403.7 L102.4,403.9 L103.0,403.8 L103.6,404.0 L104.2,403.9" fill="none" stroke="#7cbf4a" stroke-width="1.08" stroke-linejoin="round"/>
<path d="M23.2,403.8 L23.8,403.7 L24.4,403.4 L25.0,403.8 L25.6,403.9 L26.2,403.9 L26.8,403.5 L27.4,403.1 L28.0,403.3 L28.6,402.9 L29.2,403.1 L29.8,402.9 L30.4,402.6 L31.0,402.8 L31.6,403.3 L32.2,403.2 L32.8,403.2 L33.4,403.3 L34.0,403.0 L34.6,403.6 L35.2,404.0 L35.8,404.0 L36.4,403.6 L37.0,403.6 L37.6,404.0 L38.2,403.9 L38.8,403.6 L39.4,403.0 L40.0,403.2 L40.6,403.8 L41.2,403.8 L41.8,404.0 L42.4,403.7 L43.0,403.3 L43.6,403.3 L44.2,403.5 L44.8,403.9 L45.4,403.3 L46.0,403.3 L46.6,403.5 L47.2,403.3 L47.8,403.9 L48.4,403.4 L49.0,403.5 L49.6,403.6 L50.2,404.0 L50.8,403.5 L51.4,403.5 L52.0,403.8 L52.6,403.5 L53.2,403.0 L53.8,403.5 L54.4,403.4 L55.0,402.9 L55.6,402.8 L56.2,403.2 L56.8,402.6 L57.4,401.8 L58.0,401.7 L58.6,401.1 L59.2,400.6 L59.8,399.2 L60.4,397.8 L61.0,395.6 L61.6,393.7 L62.2,390.2 L62.8,387.1 L63.4,384.7 L64.0,381.4 L64.6,374.6 L65.2,371.5 L65.8,368.4 L66.4,363.9 L67.0,361.7 L67.6,356.6 L68.2,353.6 L68.8,351.3 L69.4,350.6 L70.0,348.6 L70.6,348.4 L71.2,353.0 L71.8,355.8 L72.4,358.4 L73.0,364.1 L73.6,367.5 L74.2,373.6 L74.8,381.0 L75.4,383.2 L76.0,389.0 L76.6,391.0 L77.2,394.1 L77.8,396.8 L78.4,398.9 L79.0,400.1 L79.6,401.3 L80.2,402.2 L80.8,402.8 L81.4,402.8 L82.0,403.0 L82.6,403.2 L83.2,403.6 L83.8,403.4 L84.4,403.6 L85.0,403.8 L85.6,403.8 L86.2,403.6 L86.8,403.6 L87.4,403.6 L88.0,403.4 L88.6,403.9 L89.2,404.0 L89.8,403.9 L90.4,403.6 L91.0,403.8 L91.6,403.2 L92.2,403.3 L92.8,403.4 L93.4,403.5 L94.0,403.4 L94.6,403.4 L95.2,403.3 L95.8,402.9 L96.4,402.8 L97.0,403.1 L97.6,403.5 L98.2,403.7 L98.8,403.7 L99.4,403.8 L100.0,403.6 L100.6,403.4 L101.2,403.1 L101.8,403.3 L102.4,403.2 L103.0,403.8 L103.6,403.6 L104.2,403.2" fill="none" stroke="#4659a8" stroke-width="1.08" stroke-linejoin="round"/>
<path d="M23.2,403.4 L23.8,403.9 L24.4,403.3 L25.0,403.9 L25.6,403.3 L26.2,403.3 L26.8,403.3 L27.4,403.3 L28.0,403.1 L28.6,403.0 L29.2,403.1 L29.8,403.5 L30.4,404.0 L31.0,404.0 L31.6,403.5 L32.2,403.6 L32.8,403.5 L33.4,403.0 L34.0,402.8 L34.6,403.0 L35.2,403.2 L35.8,402.9 L36.4,403.5 L37.0,403.6 L37.6,403.4 L38.2,403.6 L38.8,403.2 L39.4,403.5 L40.0,403.0 L40.6,403.7 L41.2,403.4 L41.8,403.6 L42.4,402.9 L43.0,403.7 L43.6,403.7 L44.2,403.5 L44.8,403.8 L45.4,403.0 L46.0,403.0 L46.6,403.2 L47.2,403.5 L47.8,403.8 L48.4,404.0 L49.0,403.3 L49.6,403.4 L50.2,403.4 L50.8,403.5 L51.4,403.5 L52.0,403.6 L52.6,403.8 L53.2,404.0 L53.8,403.7 L54.4,402.6 L55.0,403.0 L55.6,403.4 L56.2,402.9 L56.8,402.5 L57.4,402.0 L58.0,402.6 L58.6,402.6 L59.2,402.1 L59.8,401.1 L60.4,400.5 L61.0,399.6 L61.6,398.9 L62.2,396.4 L62.8,395.2 L63.4,392.3 L64.0,391.0 L64.6,387.6 L65.2,385.8 L65.8,381.3 L66.4,375.4 L67.0,371.7 L67.6,370.1 L68.2,365.0 L68.8,359.4 L69.4,358.2 L70.0,354.8 L70.6,353.5 L71.2,349.7 L71.8,349.3 L72.4,349.5 L73.0,350.3 L73.6,354.6 L74.2,357.1 L74.8,361.6 L75.4,364.9 L76.0,370.5 L76.6,375.4 L77.2,378.0 L77.8,382.7 L78.4,386.1 L79.0,388.6 L79.6,391.9 L80.2,394.0 L80.8,396.1 L81.4,397.7 L82.0,399.6 L82.6,401.1 L83.2,402.4 L83.8,402.4 L84.4,402.8 L85.0,403.5 L85.6,403.4 L86.2,403.5 L86.8,403.2 L87.4,403.3 L88.0,403.4 L88.6,403.7 L89.2,403.3 L89.8,402.8 L90.4,403.3 L91.0,403.4 L91.6,403.7 L92.2,403.9 L92.8,403.6 L93.4,403.6 L94.0,403.1 L94.6,403.5 L95.2,403.1 L95.8,404.0 L96.4,403.8 L97.0,403.6 L97.6,403.7 L98.2,404.0 L98.8,403.9 L99.4,403.6 L100.0,403.5 L100.6,403.5 L101.2,403.3 L101.8,403.7 L102.4,403.6 L103.0,404.0 L103.6,404.0 L104.2,404.0" fill="none" stroke="#d8392b" stroke-width="1.08" stroke-linejoin="round"/>
<path d="M23.2,394.9 L23.8,397.9 L24.4,398.6 L25.0,402.7 L25.6,403.4 L26.2,402.9 L26.8,403.5 L27.4,403.8 L28.0,404.0 L28.6,403.9 L29.2,402.3 L29.8,403.2 L30.4,403.7 L31.0,403.9 L31.6,403.1 L32.2,403.6 L32.8,404.0 L33.4,403.5 L34.0,403.3 L34.6,403.0 L35.2,403.3 L35.8,403.2 L36.4,402.8 L37.0,403.0 L37.6,402.6 L38.2,403.3 L38.8,403.5 L39.4,404.0 L40.0,404.0 L40.6,404.0 L41.2,404.0 L41.8,404.0 L42.4,403.9 L43.0,402.9 L43.6,403.6 L44.2,403.4 L44.8,403.5 L45.4,404.0 L46.0,403.8 L46.6,403.5 L47.2,403.4 L47.8,402.8 L48.4,402.6 L49.0,403.6 L49.6,403.1 L50.2,402.5 L50.8,402.8 L51.4,403.2 L52.0,403.2 L52.6,403.6 L53.2,403.9 L53.8,403.6 L54.4,404.0 L55.0,402.5 L55.6,403.3 L56.2,403.8 L56.8,403.9 L57.4,404.0 L58.0,404.0 L58.6,404.0 L59.2,404.0 L59.8,404.0 L60.4,404.0 L61.0,404.0 L61.6,404.0 L62.2,403.9 L62.8,403.5 L63.4,404.0 L64.0,403.9 L64.6,403.2 L65.2,404.0 L65.8,403.9 L66.4,404.0 L67.0,403.6 L67.6,402.6 L68.2,400.4 L68.8,397.2 L69.4,395.6 L70.0,395.1 L70.6,396.1 L71.2,389.9 L71.8,384.3 L72.4,379.8 L73.0,382.0 L73.6,382.2 L74.2,372.2 L74.8,368.9 L75.4,369.6 L76.0,363.3 L76.6,358.5 L77.2,357.9 L77.8,356.8 L78.4,356.2 L79.0,353.3 L79.6,354.7 L80.2,355.5 L80.8,354.4 L81.4,353.9 L82.0,354.2 L82.6,356.5 L83.2,357.2 L83.8,354.2 L84.4,354.5 L85.0,358.8 L85.6,358.1 L86.2,356.8 L86.8,357.1 L87.4,351.9 L88.0,349.0 L88.6,350.9 L89.2,348.5 L89.8,350.6 L90.4,354.6 L91.0,354.9 L91.6,355.7 L92.2,358.8 L92.8,361.1 L93.4,364.4 L94.0,366.6 L94.6,367.9 L95.2,372.3 L95.8,368.9 L96.4,374.6 L97.0,379.3 L97.6,381.3 L98.2,380.9 L98.8,381.3 L99.4,387.3 L100.0,390.0 L100.6,392.0 L101.2,394.6 L101.8,397.7 L102.4,401.9 L103.0,403.5 L103.6,403.7 L104.2,402.8" fill="none" stroke="#000000" stroke-width="1.45" stroke-linejoin="round"/>
<path d="M22.4,326.6H104.2V404.0" fill="none" stroke="#5a5a5a" stroke-width="0.9"/>
<line x1="23.2" y1="326.6" x2="23.2" y2="404.0" stroke="#5a5a5a" stroke-width="0.9"/>
<line x1="22.7" y1="404.0" x2="104.7" y2="404.0" stroke="#111" stroke-width="1"/>
<path d="M23.2,404.0v2.0M29.3,404.0v1.1M32.9,404.0v1.1M35.4,404.0v1.1M37.4,404.0v1.1M39.0,404.0v1.1M40.3,404.0v1.1M41.5,404.0v1.1M42.5,404.0v1.1M43.5,404.0v2.0M49.5,404.0v1.1M53.1,404.0v1.1M55.6,404.0v1.1M57.6,404.0v1.1M59.2,404.0v1.1M60.6,404.0v1.1M61.7,404.0v1.1M62.8,404.0v1.1M63.7,404.0v2.0M69.8,404.0v1.1M73.4,404.0v1.1M75.9,404.0v1.1M77.9,404.0v1.1M79.5,404.0v1.1M80.8,404.0v1.1M82.0,404.0v1.1M83.0,404.0v1.1M84.0,404.0v2.0M90.0,404.0v1.1M93.6,404.0v1.1M96.1,404.0v1.1M98.1,404.0v1.1M99.7,404.0v1.1M101.1,404.0v1.1M102.2,404.0v1.1M103.3,404.0v1.1M104.2,404.0v2" stroke="#222" stroke-width="0.6"/>
<path d="M23.2,400.8h-1.1M23.2,397.6h-1.1M23.2,394.4h-1.1M23.2,391.2h-1.1M23.2,388.0h-1.1M23.2,384.8h-1.1M23.2,381.6h-1.1M23.2,378.4h-1.1M23.2,375.2h-1.1M23.2,372.0h-1.1M23.2,368.8h-1.1M23.2,365.6h-1.1M23.2,362.4h-1.1M23.2,359.2h-1.1M23.2,356.0h-1.1M23.2,352.8h-1.1M23.2,349.6h-1.1M23.2,346.4h-1.1M23.2,343.2h-1.1M23.2,340.0h-1.1M23.2,336.8h-1.1M23.2,333.6h-1.1M23.2,330.4h-1.1" stroke="#555" stroke-width="0.7"/>
<text x="65.0" y="336.4" font-size="7.6" text-anchor="middle" font-family="Liberation Sans, sans-serif" stroke="#000" stroke-width="0.28"><tspan fill="#6f786f" stroke="#6f786f">22</tspan><tspan fill="#6f786f" stroke="#6f786f">/</tspan><tspan fill="#96c85e" stroke="#96c85e">80</tspan><tspan fill="#96c85e" stroke="#96c85e">/</tspan><tspan fill="#4659a8" stroke="#4659a8">165</tspan><tspan fill="#4659a8" stroke="#4659a8">/</tspan><tspan fill="#d8392b" stroke="#d8392b">221</tspan><tspan fill="#000000" stroke="#000000">/</tspan><tspan fill="#000000" stroke="#000000">1012</tspan></text>
<path d="M116.4,403.6 L117.0,403.5 L117.6,403.3 L118.2,403.4 L118.8,403.5 L119.4,403.9 L120.0,404.0 L120.6,403.7 L121.2,403.3 L121.8,403.2 L122.4,403.5 L123.0,403.6 L123.6,403.8 L124.2,403.7 L124.8,403.9 L125.4,403.8 L126.0,403.8 L126.6,403.9 L127.2,403.6 L127.8,403.5 L128.4,403.3 L129.0,403.7 L129.6,403.6 L130.2,404.0 L130.8,403.8 L131.4,403.7 L132.0,403.7 L132.6,403.3 L133.2,403.3 L133.8,403.2 L134.4,402.6 L135.0,402.3 L135.6,401.7 L136.2,401.2 L136.8,400.3 L137.4,399.7 L138.0,398.0 L138.6,397.0 L139.2,394.2 L139.8,391.3 L140.4,389.7 L141.0,385.5 L141.6,382.2 L142.2,378.1 L142.8,373.7 L143.4,369.3 L144.0,364.6 L144.6,358.3 L145.2,354.5 L145.8,350.6 L146.4,347.4 L147.0,344.7 L147.6,342.3 L148.2,340.9 L148.8,341.7 L149.4,343.3 L150.0,346.5 L150.6,350.2 L151.2,353.2 L151.8,359.4 L152.4,363.8 L153.0,369.9 L153.6,375.8 L154.2,380.9 L154.8,383.3 L155.4,387.8 L156.0,390.1 L156.6,393.1 L157.2,395.7 L157.8,397.2 L158.4,398.3 L159.0,399.1 L159.6,399.5 L160.2,400.4 L160.8,400.6 L161.4,401.4 L162.0,401.2 L162.6,401.2 L163.2,401.4 L163.8,401.3 L164.4,401.4 L165.0,402.2 L165.6,401.9 L166.2,402.3 L166.8,402.4 L167.4,402.3 L168.0,402.3 L168.6,402.3 L169.2,402.8 L169.8,403.0 L170.4,403.2 L171.0,403.4 L171.6,403.7 L172.2,403.3 L172.8,403.4 L173.4,403.6 L174.0,403.8 L174.6,403.3 L175.2,403.0 L175.8,403.0 L176.4,403.2 L177.0,403.4 L177.6,403.4 L178.2,403.5 L178.8,403.4 L179.4,403.4 L180.0,403.1 L180.6,403.4 L181.2,403.6 L181.8,403.3 L182.4,403.4 L183.0,403.4 L183.6,403.3 L184.2,403.6 L184.8,403.7 L185.4,403.1 L186.0,403.0 L186.6,403.1 L187.2,403.2 L187.8,403.3 L188.4,403.3 L189.0,403.6 L189.6,403.4 L190.2,403.3 L190.8,403.3 L191.4,403.4 L192.0,403.3 L192.6,403.5 L193.2,403.6 L193.8,403.6 L194.4,403.6 L195.0,403.8 L195.6,403.2 L196.2,403.2 L196.8,403.0 L197.4,403.3 L197.4,404.0 L116.4,404.0Z" fill="#dadada" stroke="#606060" stroke-width="1.0" stroke-linejoin="round"/>
<path d="M116.4,403.3 L117.0,403.4 L117.6,403.5 L118.2,403.3 L118.8,403.6 L119.4,403.7 L120.0,404.0 L120.6,403.8 L121.2,403.6 L121.8,403.0 L122.4,402.5 L123.0,402.9 L123.6,403.4 L124.2,403.3 L124.8,403.9 L125.4,403.5 L126.0,403.3 L126.6,403.3 L127.2,403.5 L127.8,403.9 L128.4,403.7 L129.0,403.8 L129.6,403.8 L130.2,403.7 L130.8,403.5 L131.4,403.0 L132.0,403.1 L132.6,403.6 L133.2,403.4 L133.8,403.8 L134.4,403.9 L135.0,403.6 L135.6,403.6 L136.2,403.3 L136.8,403.5 L137.4,403.9 L138.0,403.5 L138.6,403.5 L139.2,404.0 L139.8,403.7 L140.4,403.5 L141.0,403.5 L141.6,403.5 L142.2,403.6 L142.8,403.4 L143.4,403.3 L144.0,403.5 L144.6,403.1 L145.2,402.6 L145.8,403.3 L146.4,404.0 L147.0,403.9 L147.6,403.6 L148.2,403.8 L148.8,404.0 L149.4,403.6 L150.0,403.3 L150.6,402.9 L151.2,401.9 L151.8,401.8 L152.4,401.7 L153.0,400.8 L153.6,399.7 L154.2,398.2 L154.8,395.7 L155.4,394.6 L156.0,392.4 L156.6,386.8 L157.2,380.2 L157.8,375.9 L158.4,373.1 L159.0,367.3 L159.6,361.0 L160.2,354.5 L160.8,350.9 L161.4,347.0 L162.0,344.5 L162.6,341.6 L163.2,339.4 L163.8,338.9 L164.4,340.7 L165.0,342.2 L165.6,345.7 L166.2,349.6 L166.8,354.8 L167.4,361.6 L168.0,364.3 L168.6,369.4 L169.2,374.9 L169.8,380.4 L170.4,383.2 L171.0,386.9 L171.6,391.1 L172.2,393.1 L172.8,395.4 L173.4,397.9 L174.0,399.3 L174.6,400.0 L175.2,401.0 L175.8,401.6 L176.4,403.5 L177.0,403.6 L177.6,403.2 L178.2,403.3 L178.8,403.5 L179.4,403.4 L180.0,403.0 L180.6,402.7 L181.2,403.4 L181.8,403.0 L182.4,402.9 L183.0,403.2 L183.6,403.4 L184.2,403.5 L184.8,403.4 L185.4,403.2 L186.0,403.1 L186.6,403.3 L187.2,403.9 L187.8,403.6 L188.4,403.2 L189.0,403.0 L189.6,403.7 L190.2,403.7 L190.8,403.7 L191.4,403.7 L192.0,403.7 L192.6,403.7 L193.2,403.6 L193.8,403.4 L194.4,403.4 L195.0,403.4 L195.6,403.5 L196.2,403.5 L196.8,403.4 L197.4,403.5" fill="none" stroke="#7cbf4a" stroke-width="1.08" stroke-linejoin="round"/>
<path d="M116.4,404.0 L117.0,404.0 L117.6,403.9 L118.2,404.0 L118.8,403.8 L119.4,404.0 L120.0,404.0 L120.6,403.4 L121.2,403.4 L121.8,403.4 L122.4,403.8 L123.0,403.7 L123.6,403.2 L124.2,403.5 L124.8,404.0 L125.4,402.7 L126.0,402.7 L126.6,403.6 L127.2,403.1 L127.8,403.1 L128.4,403.4 L129.0,403.6 L129.6,403.7 L130.2,403.3 L130.8,404.0 L131.4,403.4 L132.0,403.5 L132.6,403.9 L133.2,403.2 L133.8,403.4 L134.4,403.9 L135.0,403.6 L135.6,404.0 L136.2,403.3 L136.8,403.5 L137.4,403.6 L138.0,403.4 L138.6,403.3 L139.2,403.6 L139.8,403.7 L140.4,404.0 L141.0,404.0 L141.6,404.0 L142.2,404.0 L142.8,403.9 L143.4,404.0 L144.0,403.6 L144.6,402.6 L145.2,403.3 L145.8,402.6 L146.4,403.4 L147.0,404.0 L147.6,403.5 L148.2,403.4 L148.8,402.9 L149.4,402.6 L150.0,402.9 L150.6,402.8 L151.2,403.4 L151.8,403.1 L152.4,403.2 L153.0,402.1 L153.6,400.2 L154.2,399.2 L154.8,399.0 L155.4,397.7 L156.0,396.0 L156.6,394.2 L157.2,391.1 L157.8,388.2 L158.4,384.0 L159.0,381.2 L159.6,378.6 L160.2,373.4 L160.8,366.6 L161.4,362.3 L162.0,357.6 L162.6,356.5 L163.2,350.1 L163.8,347.2 L164.4,345.0 L165.0,342.5 L165.6,341.1 L166.2,341.9 L166.8,343.9 L167.4,348.8 L168.0,350.5 L168.6,356.5 L169.2,358.9 L169.8,361.8 L170.4,364.3 L171.0,369.6 L171.6,371.0 L172.2,374.9 L172.8,376.5 L173.4,378.4 L174.0,380.0 L174.6,379.4 L175.2,380.1 L175.8,381.9 L176.4,383.3 L177.0,384.5 L177.6,385.1 L178.2,386.5 L178.8,386.6 L179.4,388.3 L180.0,388.9 L180.6,389.3 L181.2,390.9 L181.8,391.8 L182.4,392.4 L183.0,392.9 L183.6,395.9 L184.2,397.1 L184.8,398.4 L185.4,398.4 L186.0,398.4 L186.6,398.9 L187.2,400.4 L187.8,400.4 L188.4,401.5 L189.0,402.3 L189.6,402.5 L190.2,402.2 L190.8,402.2 L191.4,402.5 L192.0,403.0 L192.6,403.0 L193.2,403.1 L193.8,402.8 L194.4,402.4 L195.0,403.2 L195.6,403.4 L196.2,403.2 L196.8,403.5 L197.4,403.6" fill="none" stroke="#4659a8" stroke-width="1.08" stroke-linejoin="round"/>
<path d="M116.4,403.9 L117.0,403.7 L117.6,403.4 L118.2,403.7 L118.8,403.7 L119.4,403.7 L120.0,403.6 L120.6,403.6 L121.2,403.7 L121.8,403.4 L122.4,403.6 L123.0,403.5 L123.6,403.6 L124.2,404.0 L124.8,403.8 L125.4,404.0 L126.0,403.9 L126.6,403.7 L127.2,403.4 L127.8,403.8 L128.4,403.8 L129.0,403.2 L129.6,403.4 L130.2,403.6 L130.8,403.9 L131.4,403.6 L132.0,403.7 L132.6,403.9 L133.2,404.0 L133.8,403.4 L134.4,403.6 L135.0,403.4 L135.6,403.4 L136.2,403.4 L136.8,403.4 L137.4,403.4 L138.0,403.5 L138.6,403.7 L139.2,404.0 L139.8,403.9 L140.4,403.5 L141.0,403.6 L141.6,403.3 L142.2,403.5 L142.8,403.4 L143.4,403.7 L144.0,404.0 L144.6,404.0 L145.2,403.8 L145.8,403.5 L146.4,403.3 L147.0,403.2 L147.6,402.5 L148.2,403.0 L148.8,403.3 L149.4,403.5 L150.0,403.3 L150.6,403.2 L151.2,403.5 L151.8,403.5 L152.4,403.9 L153.0,403.9 L153.6,403.6 L154.2,403.7 L154.8,402.7 L155.4,402.2 L156.0,401.9 L156.6,401.1 L157.2,401.6 L157.8,400.6 L158.4,399.0 L159.0,397.7 L159.6,396.4 L160.2,395.7 L160.8,393.0 L161.4,388.8 L162.0,382.4 L162.6,378.2 L163.2,378.2 L163.8,373.7 L164.4,368.4 L165.0,359.7 L165.6,356.1 L166.2,355.0 L166.8,351.6 L167.4,346.0 L168.0,343.2 L168.6,344.2 L169.2,344.9 L169.8,345.6 L170.4,345.0 L171.0,343.2 L171.6,346.6 L172.2,345.0 L172.8,342.4 L173.4,338.7 L174.0,339.2 L174.6,342.0 L175.2,344.9 L175.8,351.2 L176.4,356.2 L177.0,357.9 L177.6,361.3 L178.2,362.8 L178.8,367.2 L179.4,372.1 L180.0,373.5 L180.6,377.1 L181.2,378.8 L181.8,382.3 L182.4,382.1 L183.0,384.3 L183.6,385.8 L184.2,388.9 L184.8,390.3 L185.4,392.0 L186.0,394.9 L186.6,395.7 L187.2,396.1 L187.8,397.1 L188.4,398.2 L189.0,399.4 L189.6,400.3 L190.2,401.3 L190.8,402.0 L191.4,401.9 L192.0,402.8 L192.6,402.8 L193.2,403.3 L193.8,402.8 L194.4,402.6 L195.0,402.4 L195.6,402.7 L196.2,403.2 L196.8,403.8 L197.4,403.8" fill="none" stroke="#d8392b" stroke-width="1.08" stroke-linejoin="round"/>
<path d="M116.4,403.3 L117.0,403.0 L117.6,403.6 L118.2,402.8 L118.8,403.2 L119.4,403.6 L120.0,403.6 L120.6,403.9 L121.2,403.3 L121.8,403.7 L122.4,403.6 L123.0,403.0 L123.6,403.7 L124.2,404.0 L124.8,404.0 L125.4,403.7 L126.0,403.4 L126.6,403.5 L127.2,404.0 L127.8,402.7 L128.4,403.2 L129.0,402.8 L129.6,403.5 L130.2,403.9 L130.8,403.7 L131.4,403.3 L132.0,402.9 L132.6,402.5 L133.2,402.9 L133.8,403.2 L134.4,403.6 L135.0,402.9 L135.6,402.3 L136.2,402.9 L136.8,403.3 L137.4,403.5 L138.0,403.7 L138.6,402.8 L139.2,402.7 L139.8,402.3 L140.4,401.7 L141.0,401.6 L141.6,401.4 L142.2,401.7 L142.8,401.2 L143.4,400.8 L144.0,400.3 L144.6,400.3 L145.2,399.8 L145.8,399.7 L146.4,400.3 L147.0,400.0 L147.6,399.1 L148.2,399.9 L148.8,400.0 L149.4,398.7 L150.0,399.2 L150.6,399.1 L151.2,400.1 L151.8,400.2 L152.4,400.5 L153.0,400.8 L153.6,401.6 L154.2,401.0 L154.8,400.5 L155.4,400.5 L156.0,401.7 L156.6,401.8 L157.2,401.7 L157.8,402.5 L158.4,402.2 L159.0,403.0 L159.6,403.7 L160.2,403.3 L160.8,403.4 L161.4,403.0 L162.0,403.2 L162.6,402.9 L163.2,403.5 L163.8,403.4 L164.4,402.5 L165.0,403.1 L165.6,403.1 L166.2,403.1 L166.8,402.4 L167.4,402.3 L168.0,402.9 L168.6,402.4 L169.2,403.1 L169.8,401.8 L170.4,401.5 L171.0,400.0 L171.6,398.0 L172.2,397.8 L172.8,395.1 L173.4,393.8 L174.0,390.1 L174.6,387.6 L175.2,385.0 L175.8,380.5 L176.4,375.9 L177.0,372.0 L177.6,367.9 L178.2,364.0 L178.8,362.0 L179.4,354.4 L180.0,352.7 L180.6,351.6 L181.2,348.7 L181.8,346.0 L182.4,346.5 L183.0,345.7 L183.6,345.4 L184.2,348.4 L184.8,350.1 L185.4,352.3 L186.0,352.7 L186.6,353.6 L187.2,357.2 L187.8,361.7 L188.4,366.7 L189.0,368.3 L189.6,374.5 L190.2,374.1 L190.8,378.5 L191.4,381.2 L192.0,384.2 L192.6,387.5 L193.2,388.8 L193.8,391.9 L194.4,393.4 L195.0,395.7 L195.6,395.0 L196.2,396.8 L196.8,398.2 L197.4,399.2" fill="none" stroke="#000000" stroke-width="1.45" stroke-linejoin="round"/>
<path d="M115.6,326.6H197.4V404.0" fill="none" stroke="#5a5a5a" stroke-width="0.9"/>
<line x1="116.4" y1="326.6" x2="116.4" y2="404.0" stroke="#5a5a5a" stroke-width="0.9"/>
<line x1="115.9" y1="404.0" x2="197.9" y2="404.0" stroke="#111" stroke-width="1"/>
<path d="M116.4,404.0v2.0M122.5,404.0v1.1M126.1,404.0v1.1M128.6,404.0v1.1M130.6,404.0v1.1M132.2,404.0v1.1M133.5,404.0v1.1M134.7,404.0v1.1M135.7,404.0v1.1M136.7,404.0v2.0M142.7,404.0v1.1M146.3,404.0v1.1M148.8,404.0v1.1M150.8,404.0v1.1M152.4,404.0v1.1M153.8,404.0v1.1M154.9,404.0v1.1M156.0,404.0v1.1M156.9,404.0v2.0M163.0,404.0v1.1M166.6,404.0v1.1M169.1,404.0v1.1M171.1,404.0v1.1M172.7,404.0v1.1M174.0,404.0v1.1M175.2,404.0v1.1M176.2,404.0v1.1M177.2,404.0v2.0M183.2,404.0v1.1M186.8,404.0v1.1M189.3,404.0v1.1M191.3,404.0v1.1M192.9,404.0v1.1M194.3,404.0v1.1M195.4,404.0v1.1M196.5,404.0v1.1M197.4,404.0v2" stroke="#222" stroke-width="0.6"/>
<path d="M116.4,400.8h-1.1M116.4,397.6h-1.1M116.4,394.4h-1.1M116.4,391.2h-1.1M116.4,388.0h-1.1M116.4,384.8h-1.1M116.4,381.6h-1.1M116.4,378.4h-1.1M116.4,375.2h-1.1M116.4,372.0h-1.1M116.4,368.8h-1.1M116.4,365.6h-1.1M116.4,362.4h-1.1M116.4,359.2h-1.1M116.4,356.0h-1.1M116.4,352.8h-1.1M116.4,349.6h-1.1M116.4,346.4h-1.1M116.4,343.2h-1.1M116.4,340.0h-1.1M116.4,336.8h-1.1M116.4,333.6h-1.1M116.4,330.4h-1.1" stroke="#555" stroke-width="0.7"/>
<text x="158.6" y="336.4" font-size="7.6" text-anchor="middle" font-family="Liberation Sans, sans-serif" stroke="#000" stroke-width="0.28"><tspan fill="#6f786f" stroke="#6f786f">35</tspan><tspan fill="#6f786f" stroke="#6f786f">/</tspan><tspan fill="#96c85e" stroke="#96c85e">188</tspan><tspan fill="#96c85e" stroke="#96c85e">/</tspan><tspan fill="#4659a8" stroke="#4659a8">291</tspan><tspan fill="#4659a8" stroke="#4659a8">/</tspan><tspan fill="#d8392b" stroke="#d8392b">546</tspan><tspan fill="#000000" stroke="#000000">/</tspan><tspan fill="#000000" stroke="#000000">1580</tspan></text>
<path d="M209.9,397.1 L210.5,396.3 L211.1,395.4 L211.7,394.3 L212.3,393.2 L212.9,392.0 L213.5,390.8 L214.1,389.4 L214.7,387.9 L215.3,386.4 L215.9,384.8 L216.5,383.0 L217.1,381.2 L217.7,379.4 L218.3,377.4 L218.9,375.4 L219.5,373.4 L220.1,371.3 L220.7,369.1 L221.3,367.0 L221.9,364.8 L222.5,362.7 L223.1,360.6 L223.7,358.5 L224.3,356.4 L224.9,354.5 L225.5,352.6 L226.1,350.8 L226.7,349.1 L227.3,347.6 L227.9,346.2 L228.5,345.0 L229.1,343.9 L229.7,343.0 L230.3,342.3 L230.9,341.8 L231.5,341.4 L232.1,341.3 L232.7,342.0 L233.3,344.3 L233.9,348.1 L234.5,353.2 L235.1,359.0 L235.7,365.3 L236.3,371.6 L236.9,377.6 L237.5,383.1 L238.1,387.9 L238.7,391.9 L239.3,395.2 L239.9,397.8 L240.5,399.7 L241.1,401.1 L241.7,402.1 L242.3,402.8 L242.9,403.3 L243.5,403.6 L244.1,403.7 L244.7,403.9 L245.3,403.9 L245.9,404.0 L246.5,404.0 L247.1,404.0 L247.7,404.0 L248.3,404.0 L248.9,404.0 L249.5,404.0 L250.1,404.0 L250.8,404.0 L251.4,404.0 L252.0,404.0 L252.6,404.0 L253.2,404.0 L253.8,404.0 L254.4,404.0 L255.0,404.0 L255.6,404.0 L256.2,404.0 L256.8,404.0 L257.4,404.0 L258.0,404.0 L258.6,404.0 L259.2,404.0 L259.8,404.0 L260.4,404.0 L261.0,404.0 L261.6,404.0 L262.2,404.0 L262.8,404.0 L263.4,404.0 L264.0,404.0 L264.6,404.0 L265.2,404.0 L265.8,404.0 L266.4,404.0 L267.0,404.0 L267.6,404.0 L268.2,404.0 L268.8,404.0 L269.4,404.0 L270.0,404.0 L270.6,404.0 L271.2,404.0 L271.8,404.0 L272.4,404.0 L273.0,404.0 L273.6,404.0 L274.2,404.0 L274.8,404.0 L275.4,404.0 L276.0,404.0 L276.6,404.0 L277.2,404.0 L277.8,404.0 L278.4,404.0 L279.0,404.0 L279.6,404.0 L280.2,404.0 L280.8,404.0 L281.4,404.0 L282.0,404.0 L282.6,404.0 L283.2,404.0 L283.8,404.0 L284.4,404.0 L285.0,404.0 L285.6,404.0 L286.2,404.0 L286.8,404.0 L287.4,404.0 L288.0,404.0 L288.6,404.0 L289.2,404.0 L289.8,404.0 L290.4,404.0 L290.4,404.0 L209.9,404.0Z" fill="#dadada" stroke="#606060" stroke-width="1.0" stroke-linejoin="round"/>
<path d="M209.9,390.2 L210.5,389.8 L211.1,389.9 L211.7,387.6 L212.3,386.2 L212.9,384.1 L213.5,382.0 L214.1,381.5 L214.7,380.5 L215.3,377.5 L215.9,377.1 L216.5,374.5 L217.1,372.0 L217.7,368.4 L218.3,367.5 L218.9,365.9 L219.5,364.2 L220.1,363.5 L220.7,361.0 L221.3,358.4 L221.9,357.7 L222.5,355.3 L223.1,354.0 L223.7,352.5 L224.3,350.6 L224.9,348.8 L225.5,346.3 L226.1,344.8 L226.7,344.0 L227.3,343.1 L227.9,342.8 L228.5,343.7 L229.1,340.4 L229.7,340.8 L230.3,340.4 L230.9,341.5 L231.5,341.3 L232.1,341.4 L232.7,342.2 L233.3,347.3 L233.9,351.1 L234.5,355.3 L235.1,360.9 L235.7,366.5 L236.3,371.4 L236.9,377.5 L237.5,382.9 L238.1,387.1 L238.7,391.0 L239.3,393.8 L239.9,395.6 L240.5,397.7 L241.1,399.3 L241.7,400.6 L242.3,401.3 L242.9,402.1 L243.5,402.6 L244.1,402.7 L244.7,403.2 L245.3,403.2 L245.9,403.8 L246.5,403.9 L247.1,404.0 L247.7,404.0 L248.3,404.0 L248.9,403.9 L249.5,403.8 L250.1,403.6 L250.8,403.9 L251.4,404.0 L252.0,403.9 L252.6,404.0 L253.2,404.0 L253.8,403.8 L254.4,404.0 L255.0,403.9 L255.6,403.9 L256.2,404.0 L256.8,403.9 L257.4,403.7 L258.0,403.9 L258.6,403.7 L259.2,403.7 L259.8,403.8 L260.4,404.0 L261.0,404.0 L261.6,403.8 L262.2,404.0 L262.8,403.7 L263.4,404.0 L264.0,404.0 L264.6,403.9 L265.2,404.0 L265.8,403.9 L266.4,404.0 L267.0,404.0 L267.6,403.9 L268.2,404.0 L268.8,404.0 L269.4,403.9 L270.0,403.9 L270.6,403.8 L271.2,404.0 L271.8,403.7 L272.4,403.8 L273.0,404.0 L273.6,403.7 L274.2,404.0 L274.8,403.8 L275.4,403.7 L276.0,403.8 L276.6,403.9 L277.2,403.7 L277.8,403.9 L278.4,404.0 L279.0,403.9 L279.6,404.0 L280.2,403.9 L280.8,403.9 L281.4,404.0 L282.0,404.0 L282.6,403.9 L283.2,403.8 L283.8,403.8 L284.4,403.8 L285.0,403.6 L285.6,403.4 L286.2,403.4 L286.8,403.4 L287.4,403.6 L288.0,403.9 L288.6,404.0 L289.2,404.0 L289.8,403.8 L290.4,403.9" fill="none" stroke="#7cbf4a" stroke-width="1.08" stroke-linejoin="round"/>
<path d="M209.9,397.3 L210.5,396.4 L211.1,395.6 L211.7,394.9 L212.3,394.4 L212.9,393.5 L213.5,391.6 L214.1,390.6 L214.7,389.3 L215.3,387.8 L215.9,387.0 L216.5,384.9 L217.1,383.4 L217.7,382.2 L218.3,381.0 L218.9,378.9 L219.5,376.1 L220.1,375.6 L220.7,373.9 L221.3,370.9 L221.9,369.2 L222.5,367.8 L223.1,365.9 L223.7,364.6 L224.3,362.5 L224.9,362.0 L225.5,359.1 L226.1,357.2 L226.7,354.9 L227.3,354.3 L227.9,351.4 L228.5,349.5 L229.1,347.4 L229.7,347.3 L230.3,346.1 L230.9,345.6 L231.5,344.0 L232.1,342.8 L232.7,341.8 L233.3,341.7 L233.9,341.7 L234.5,340.9 L235.1,341.1 L235.7,340.9 L236.3,341.9 L236.9,345.8 L237.5,348.7 L238.1,353.3 L238.7,359.1 L239.3,365.4 L239.9,372.0 L240.5,376.4 L241.1,381.8 L241.7,386.2 L242.3,390.5 L242.9,393.4 L243.5,396.5 L244.1,398.3 L244.7,400.0 L245.3,401.5 L245.9,402.1 L246.5,402.6 L247.1,403.3 L247.7,403.6 L248.3,403.7 L248.9,403.7 L249.5,403.3 L250.1,403.6 L250.8,403.6 L251.4,403.8 L252.0,404.0 L252.6,404.0 L253.2,404.0 L253.8,404.0 L254.4,403.9 L255.0,403.8 L255.6,403.9 L256.2,404.0 L256.8,404.0 L257.4,404.0 L258.0,404.0 L258.6,404.0 L259.2,404.0 L259.8,403.9 L260.4,403.9 L261.0,403.7 L261.6,403.9 L262.2,404.0 L262.8,404.0 L263.4,403.8 L264.0,403.9 L264.6,404.0 L265.2,404.0 L265.8,404.0 L266.4,404.0 L267.0,404.0 L267.6,404.0 L268.2,404.0 L268.8,404.0 L269.4,404.0 L270.0,404.0 L270.6,404.0 L271.2,404.0 L271.8,404.0 L272.4,403.9 L273.0,403.9 L273.6,404.0 L274.2,404.0 L274.8,404.0 L275.4,403.9 L276.0,403.9 L276.6,404.0 L277.2,403.9 L277.8,404.0 L278.4,403.9 L279.0,403.8 L279.6,404.0 L280.2,404.0 L280.8,404.0 L281.4,403.9 L282.0,404.0 L282.6,404.0 L283.2,404.0 L283.8,404.0 L284.4,404.0 L285.0,404.0 L285.6,404.0 L286.2,404.0 L286.8,404.0 L287.4,404.0 L288.0,403.8 L288.6,403.9 L289.2,404.0 L289.8,403.7 L290.4,404.0" fill="none" stroke="#4659a8" stroke-width="1.08" stroke-linejoin="round"/>
<path d="M209.9,397.8 L210.5,396.9 L211.1,396.0 L211.7,395.2 L212.3,394.2 L212.9,393.1 L213.5,392.6 L214.1,391.1 L214.7,390.3 L215.3,388.8 L215.9,387.7 L216.5,385.7 L217.1,385.3 L217.7,383.4 L218.3,380.4 L218.9,378.7 L219.5,377.4 L220.1,376.3 L220.7,374.7 L221.3,373.1 L221.9,371.1 L222.5,367.7 L223.1,365.3 L223.7,364.4 L224.3,363.4 L224.9,361.7 L225.5,358.9 L226.1,357.5 L226.7,356.9 L227.3,354.4 L227.9,352.0 L228.5,349.8 L229.1,348.7 L229.7,348.1 L230.3,345.8 L230.9,345.6 L231.5,344.2 L232.1,342.5 L232.7,342.2 L233.3,341.8 L233.9,341.3 L234.5,340.6 L235.1,340.2 L235.7,340.8 L236.3,341.7 L236.9,344.9 L237.5,348.2 L238.1,352.1 L238.7,357.6 L239.3,362.3 L239.9,368.7 L240.5,373.7 L241.1,377.8 L241.7,383.4 L242.3,386.7 L242.9,390.6 L243.5,394.2 L244.1,396.4 L244.7,398.4 L245.3,399.8 L245.9,400.7 L246.5,401.7 L247.1,402.3 L247.7,402.9 L248.3,403.5 L248.9,403.5 L249.5,403.9 L250.1,404.0 L250.8,404.0 L251.4,404.0 L252.0,404.0 L252.6,403.9 L253.2,403.9 L253.8,404.0 L254.4,404.0 L255.0,404.0 L255.6,403.9 L256.2,403.8 L256.8,403.8 L257.4,403.9 L258.0,404.0 L258.6,404.0 L259.2,403.8 L259.8,404.0 L260.4,403.9 L261.0,403.8 L261.6,403.8 L262.2,403.9 L262.8,404.0 L263.4,404.0 L264.0,404.0 L264.6,403.9 L265.2,403.8 L265.8,404.0 L266.4,404.0 L267.0,404.0 L267.6,404.0 L268.2,404.0 L268.8,404.0 L269.4,404.0 L270.0,403.8 L270.6,404.0 L271.2,403.9 L271.8,404.0 L272.4,404.0 L273.0,404.0 L273.6,403.9 L274.2,403.9 L274.8,403.7 L275.4,403.9 L276.0,404.0 L276.6,404.0 L277.2,403.8 L277.8,403.8 L278.4,404.0 L279.0,404.0 L279.6,404.0 L280.2,404.0 L280.8,403.9 L281.4,404.0 L282.0,404.0 L282.6,404.0 L283.2,403.7 L283.8,403.9 L284.4,404.0 L285.0,404.0 L285.6,403.9 L286.2,403.9 L286.8,404.0 L287.4,404.0 L288.0,404.0 L288.6,403.9 L289.2,404.0 L289.8,404.0 L290.4,404.0" fill="none" stroke="#d8392b" stroke-width="1.35" stroke-linejoin="round"/>
<path d="M209.9,403.8 L210.5,403.6 L211.1,403.8 L211.7,403.6 L212.3,403.9 L212.9,403.9 L213.5,403.2 L214.1,403.3 L214.7,403.6 L215.3,403.2 L215.9,403.6 L216.5,403.8 L217.1,403.8 L217.7,403.6 L218.3,403.8 L218.9,403.5 L219.5,403.4 L220.1,403.3 L220.7,403.2 L221.3,403.5 L221.9,404.0 L222.5,404.0 L223.1,403.7 L223.7,403.2 L224.3,403.6 L224.9,403.8 L225.5,403.7 L226.1,403.4 L226.7,403.4 L227.3,403.4 L227.9,403.5 L228.5,403.9 L229.1,403.9 L229.7,403.8 L230.3,403.7 L230.9,403.6 L231.5,403.8 L232.1,403.8 L232.7,403.3 L233.3,403.5 L233.9,403.8 L234.5,403.6 L235.1,403.1 L235.7,403.8 L236.3,403.7 L236.9,403.6 L237.5,403.9 L238.1,404.0 L238.7,404.0 L239.3,403.3 L239.9,403.6 L240.5,403.6 L241.1,403.4 L241.7,403.5 L242.3,403.4 L242.9,404.0 L243.5,403.8 L244.1,403.5 L244.7,403.5 L245.3,403.9 L245.9,404.0 L246.5,404.0 L247.1,404.0 L247.7,403.9 L248.3,404.0 L248.9,404.0 L249.5,404.0 L250.1,403.5 L250.8,403.9 L251.4,404.0 L252.0,404.0 L252.6,404.0 L253.2,404.0 L253.8,404.0 L254.4,403.8 L255.0,403.6 L255.6,403.9 L256.2,404.0 L256.8,403.9 L257.4,404.0 L258.0,403.8 L258.6,403.8 L259.2,403.5 L259.8,403.8 L260.4,404.0 L261.0,404.0 L261.6,403.9 L262.2,404.0 L262.8,403.8 L263.4,404.0 L264.0,404.0 L264.6,403.5 L265.2,403.7 L265.8,404.0 L266.4,403.7 L267.0,403.2 L267.6,403.2 L268.2,402.5 L268.8,401.5 L269.4,397.8 L270.0,394.2 L270.6,389.9 L271.2,384.3 L271.8,375.5 L272.4,365.4 L273.0,357.9 L273.6,352.4 L274.2,347.9 L274.8,345.3 L275.4,343.2 L276.0,344.8 L276.6,348.0 L277.2,353.3 L277.8,359.1 L278.4,363.1 L279.0,367.5 L279.6,371.0 L280.2,373.2 L280.8,374.5 L281.4,377.6 L282.0,378.1 L282.6,377.3 L283.2,378.3 L283.8,373.4 L284.4,374.0 L285.0,371.2 L285.6,371.5 L286.2,375.9 L286.8,381.7 L287.4,387.3 L288.0,392.7 L288.6,398.0 L289.2,400.0 L289.8,402.1 L290.4,403.2" fill="none" stroke="#000000" stroke-width="1.45" stroke-linejoin="round"/>
<line x1="210.4" y1="326.6" x2="210.4" y2="404.0" stroke="#d8392b" stroke-width="1.4"/>
<path d="M209.1,326.6H290.4V404.0" fill="none" stroke="#5a5a5a" stroke-width="0.9"/>
<line x1="209.9" y1="326.6" x2="209.9" y2="404.0" stroke="#5a5a5a" stroke-width="0.9"/>
<line x1="209.4" y1="404.0" x2="290.9" y2="404.0" stroke="#111" stroke-width="1"/>
<path d="M209.9,404.0v2.0M216.0,404.0v1.1M219.5,404.0v1.1M222.0,404.0v1.1M224.0,404.0v1.1M225.6,404.0v1.1M226.9,404.0v1.1M228.1,404.0v1.1M229.1,404.0v1.1M230.0,404.0v2.0M236.1,404.0v1.1M239.6,404.0v1.1M242.1,404.0v1.1M244.1,404.0v1.1M245.7,404.0v1.1M247.0,404.0v1.1M248.2,404.0v1.1M249.2,404.0v1.1M250.1,404.0v2.0M256.2,404.0v1.1M259.8,404.0v1.1M262.3,404.0v1.1M264.2,404.0v1.1M265.8,404.0v1.1M267.2,404.0v1.1M268.3,404.0v1.1M269.4,404.0v1.1M270.3,404.0v2.0M276.3,404.0v1.1M279.9,404.0v1.1M282.4,404.0v1.1M284.3,404.0v1.1M285.9,404.0v1.1M287.3,404.0v1.1M288.4,404.0v1.1M289.5,404.0v1.1M290.4,404.0v2" stroke="#222" stroke-width="0.6"/>
<path d="M209.9,400.8h-1.1M209.9,397.6h-1.1M209.9,394.4h-1.1M209.9,391.2h-1.1M209.9,388.0h-1.1M209.9,384.8h-1.1M209.9,381.6h-1.1M209.9,378.4h-1.1M209.9,375.2h-1.1M209.9,372.0h-1.1M209.9,368.8h-1.1M209.9,365.6h-1.1M209.9,362.4h-1.1M209.9,359.2h-1.1M209.9,356.0h-1.1M209.9,352.8h-1.1M209.9,349.6h-1.1M209.9,346.4h-1.1M209.9,343.2h-1.1M209.9,340.0h-1.1M209.9,336.8h-1.1M209.9,333.6h-1.1M209.9,330.4h-1.1" stroke="#555" stroke-width="0.7"/>
<text x="251.7" y="336.4" font-size="7.6" text-anchor="middle" font-family="Liberation Sans, sans-serif" stroke="#000" stroke-width="0.28"><tspan fill="#6f786f" stroke="#6f786f">7</tspan><tspan fill="#6f786f" stroke="#6f786f">/</tspan><tspan fill="#96c85e" stroke="#96c85e">7</tspan><tspan fill="#96c85e" stroke="#96c85e">/</tspan><tspan fill="#4659a8" stroke="#4659a8">11</tspan><tspan fill="#4659a8" stroke="#4659a8">/</tspan><tspan fill="#d8392b" stroke="#d8392b">12</tspan><tspan fill="#000000" stroke="#000000">/</tspan><tspan fill="#000000" stroke="#000000">2434</tspan></text>
<path d="M303.2,404.0 L303.8,404.0 L304.4,404.0 L305.0,404.0 L305.6,404.0 L306.2,404.0 L306.8,404.0 L307.4,404.0 L308.0,404.0 L308.6,404.0 L309.2,404.0 L309.8,404.0 L310.4,404.0 L311.0,403.9 L311.7,403.9 L312.3,403.9 L312.9,403.8 L313.5,403.7 L314.1,403.6 L314.7,403.4 L315.3,403.2 L315.9,402.9 L316.5,402.5 L317.1,402.0 L317.7,401.4 L318.3,400.7 L318.9,399.7 L319.5,398.6 L320.1,397.3 L320.7,395.7 L321.3,393.8 L321.9,391.7 L322.5,389.4 L323.1,386.8 L323.7,384.0 L324.3,381.0 L324.9,377.9 L325.5,374.7 L326.1,371.5 L326.7,368.4 L327.4,365.5 L328.0,362.8 L328.6,360.5 L329.2,358.6 L329.8,357.2 L330.4,356.3 L331.0,356.0 L331.6,356.4 L332.2,357.6 L332.8,359.6 L333.4,362.3 L334.0,365.5 L334.6,369.1 L335.2,373.0 L335.8,376.9 L336.4,380.7 L337.0,384.3 L337.6,387.7 L338.2,390.7 L338.8,393.4 L339.4,395.7 L340.0,397.6 L340.6,399.1 L341.2,400.4 L341.8,401.4 L342.4,402.1 L343.0,402.7 L343.7,403.1 L344.3,403.4 L344.9,403.6 L345.5,403.7 L346.1,403.8 L346.7,403.9 L347.3,403.9 L347.9,404.0 L348.5,404.0 L349.1,404.0 L349.7,404.0 L350.3,404.0 L350.9,404.0 L351.5,404.0 L352.1,404.0 L352.7,404.0 L353.3,404.0 L353.9,404.0 L354.5,404.0 L355.1,404.0 L355.7,404.0 L356.3,404.0 L356.9,404.0 L357.5,404.0 L358.1,404.0 L358.7,404.0 L359.3,404.0 L360.0,404.0 L360.6,404.0 L361.2,404.0 L361.8,404.0 L362.4,404.0 L363.0,404.0 L363.6,404.0 L364.2,404.0 L364.8,404.0 L365.4,404.0 L366.0,404.0 L366.6,404.0 L367.2,404.0 L367.8,404.0 L368.4,404.0 L369.0,404.0 L369.6,404.0 L370.2,404.0 L370.8,404.0 L371.4,404.0 L372.0,404.0 L372.6,404.0 L373.2,404.0 L373.8,404.0 L374.4,404.0 L375.0,404.0 L375.7,404.0 L376.3,404.0 L376.9,404.0 L377.5,404.0 L378.1,404.0 L378.7,404.0 L379.3,404.0 L379.9,404.0 L380.5,404.0 L381.1,404.0 L381.7,404.0 L382.3,404.0 L382.9,404.0 L383.5,404.0 L383.5,404.0 L303.2,404.0Z" fill="#dadada" stroke="#606060" stroke-width="1.0" stroke-linejoin="round"/>
<path d="M303.2,404.0 L303.8,403.8 L304.4,403.7 L305.0,403.8 L305.6,403.4 L306.2,403.3 L306.8,403.6 L307.4,403.2 L308.0,403.5 L308.6,403.6 L309.2,404.0 L309.8,404.0 L310.4,403.9 L311.0,403.8 L311.7,403.7 L312.3,403.7 L312.9,403.3 L313.5,402.9 L314.1,403.1 L314.7,402.6 L315.3,402.0 L315.9,401.0 L316.5,400.8 L317.1,400.2 L317.7,398.9 L318.3,397.5 L318.9,396.1 L319.5,394.9 L320.1,393.4 L320.7,391.0 L321.3,388.2 L321.9,386.5 L322.5,383.7 L323.1,379.0 L323.7,375.1 L324.3,370.9 L324.9,368.1 L325.5,363.9 L326.1,360.5 L326.7,356.6 L327.4,353.5 L328.0,350.9 L328.6,350.5 L329.2,348.5 L329.8,346.4 L330.4,345.8 L331.0,345.3 L331.6,346.7 L332.2,351.0 L332.8,352.5 L333.4,355.5 L334.0,359.7 L334.6,363.5 L335.2,368.1 L335.8,371.9 L336.4,376.4 L337.0,378.7 L337.6,383.1 L338.2,386.7 L338.8,391.2 L339.4,393.6 L340.0,396.0 L340.6,397.7 L341.2,399.0 L341.8,400.3 L342.4,401.6 L343.0,402.3 L343.7,402.7 L344.3,403.3 L344.9,403.2 L345.5,403.3 L346.1,403.6 L346.7,403.9 L347.3,403.7 L347.9,403.5 L348.5,403.5 L349.1,403.7 L349.7,403.6 L350.3,403.5 L350.9,403.7 L351.5,403.6 L352.1,403.2 L352.7,403.8 L353.3,403.6 L353.9,403.8 L354.5,403.9 L355.1,403.9 L355.7,403.8 L356.3,403.6 L356.9,403.7 L357.5,403.5 L358.1,403.7 L358.7,403.7 L359.3,403.7 L360.0,403.8 L360.6,404.0 L361.2,404.0 L361.8,404.0 L362.4,403.6 L363.0,403.5 L363.6,403.8 L364.2,403.7 L364.8,403.5 L365.4,403.5 L366.0,403.6 L366.6,403.6 L367.2,403.6 L367.8,403.6 L368.4,403.5 L369.0,403.8 L369.6,403.9 L370.2,404.0 L370.8,403.6 L371.4,403.5 L372.0,403.6 L372.6,403.7 L373.2,403.5 L373.8,404.0 L374.4,403.9 L375.0,403.8 L375.7,403.7 L376.3,403.8 L376.9,404.0 L377.5,404.0 L378.1,404.0 L378.7,404.0 L379.3,404.0 L379.9,404.0 L380.5,404.0 L381.1,404.0 L381.7,403.6 L382.3,403.7 L382.9,403.6 L383.5,403.3" fill="none" stroke="#7cbf4a" stroke-width="1.08" stroke-linejoin="round"/>
<path d="M303.2,403.7 L303.8,403.3 L304.4,403.7 L305.0,403.8 L305.6,403.5 L306.2,403.4 L306.8,403.6 L307.4,403.6 L308.0,403.6 L308.6,403.6 L309.2,403.5 L309.8,403.7 L310.4,403.4 L311.0,403.6 L311.7,403.7 L312.3,403.7 L312.9,404.0 L313.5,404.0 L314.1,403.7 L314.7,403.7 L315.3,403.5 L315.9,403.6 L316.5,403.4 L317.1,403.4 L317.7,403.0 L318.3,402.4 L318.9,401.9 L319.5,401.8 L320.1,400.9 L320.7,400.1 L321.3,399.2 L321.9,398.3 L322.5,397.0 L323.1,395.7 L323.7,393.7 L324.3,391.4 L324.9,389.1 L325.5,386.2 L326.1,383.5 L326.7,381.9 L327.4,378.5 L328.0,374.8 L328.6,371.0 L329.2,369.1 L329.8,364.9 L330.4,360.9 L331.0,357.9 L331.6,355.3 L332.2,351.6 L332.8,349.7 L333.4,349.3 L334.0,349.4 L334.6,348.5 L335.2,349.0 L335.8,350.6 L336.4,354.1 L337.0,357.0 L337.6,360.1 L338.2,365.2 L338.8,369.2 L339.4,372.7 L340.0,376.9 L340.6,379.6 L341.2,383.5 L341.8,386.2 L342.4,389.9 L343.0,393.5 L343.7,395.4 L344.3,397.9 L344.9,399.5 L345.5,399.8 L346.1,400.8 L346.7,401.9 L347.3,401.9 L347.9,402.7 L348.5,403.1 L349.1,403.7 L349.7,403.4 L350.3,403.8 L350.9,403.5 L351.5,403.4 L352.1,403.9 L352.7,403.6 L353.3,404.0 L353.9,404.0 L354.5,403.7 L355.1,403.3 L355.7,403.7 L356.3,403.6 L356.9,403.4 L357.5,403.7 L358.1,403.4 L358.7,403.5 L359.3,403.8 L360.0,403.8 L360.6,404.0 L361.2,403.8 L361.8,404.0 L362.4,403.8 L363.0,403.8 L363.6,403.5 L364.2,403.8 L364.8,403.7 L365.4,403.3 L366.0,403.9 L366.6,403.9 L367.2,404.0 L367.8,403.6 L368.4,403.6 L369.0,403.5 L369.6,403.7 L370.2,403.7 L370.8,403.5 L371.4,403.2 L372.0,403.6 L372.6,403.8 L373.2,403.6 L373.8,403.4 L374.4,403.4 L375.0,403.5 L375.7,403.7 L376.3,404.0 L376.9,403.8 L377.5,403.3 L378.1,403.4 L378.7,403.3 L379.3,403.6 L379.9,403.8 L380.5,403.4 L381.1,403.5 L381.7,403.7 L382.3,404.0 L382.9,404.0 L383.5,403.7" fill="none" stroke="#4659a8" stroke-width="1.08" stroke-linejoin="round"/>
<path d="M303.2,403.7 L303.8,403.5 L304.4,403.5 L305.0,403.6 L305.6,403.9 L306.2,403.9 L306.8,403.9 L307.4,403.7 L308.0,403.6 L308.6,404.0 L309.2,403.9 L309.8,403.9 L310.4,404.0 L311.0,403.8 L311.7,403.4 L312.3,403.6 L312.9,403.3 L313.5,403.8 L314.1,403.9 L314.7,403.7 L315.3,403.9 L315.9,403.8 L316.5,403.8 L317.1,403.7 L317.7,403.8 L318.3,403.6 L318.9,402.8 L319.5,403.0 L320.1,403.4 L320.7,403.5 L321.3,403.2 L321.9,402.9 L322.5,402.6 L323.1,402.3 L323.7,401.8 L324.3,401.1 L324.9,400.8 L325.5,399.7 L326.1,398.3 L326.7,396.7 L327.4,394.6 L328.0,392.8 L328.6,391.3 L329.2,387.5 L329.8,385.1 L330.4,381.6 L331.0,378.3 L331.6,375.3 L332.2,371.5 L332.8,367.5 L333.4,364.3 L334.0,360.9 L334.6,357.8 L335.2,354.9 L335.8,351.9 L336.4,350.3 L337.0,348.8 L337.6,349.0 L338.2,348.4 L338.8,350.2 L339.4,351.9 L340.0,353.9 L340.6,358.3 L341.2,362.1 L341.8,365.9 L342.4,368.1 L343.0,373.9 L343.7,378.2 L344.3,382.4 L344.9,385.3 L345.5,389.1 L346.1,392.4 L346.7,394.3 L347.3,396.2 L347.9,398.2 L348.5,399.5 L349.1,400.6 L349.7,401.5 L350.3,401.9 L350.9,402.7 L351.5,403.0 L352.1,403.3 L352.7,403.4 L353.3,403.7 L353.9,403.5 L354.5,404.0 L355.1,403.9 L355.7,404.0 L356.3,404.0 L356.9,404.0 L357.5,403.9 L358.1,403.8 L358.7,403.8 L359.3,403.5 L360.0,403.6 L360.6,403.8 L361.2,403.7 L361.8,403.7 L362.4,403.5 L363.0,403.7 L363.6,404.0 L364.2,403.6 L364.8,403.8 L365.4,403.9 L366.0,403.7 L366.6,403.8 L367.2,403.9 L367.8,404.0 L368.4,404.0 L369.0,404.0 L369.6,404.0 L370.2,404.0 L370.8,404.0 L371.4,403.9 L372.0,403.9 L372.6,403.5 L373.2,403.3 L373.8,403.7 L374.4,404.0 L375.0,403.9 L375.7,403.8 L376.3,403.8 L376.9,403.6 L377.5,403.6 L378.1,404.0 L378.7,404.0 L379.3,403.7 L379.9,403.7 L380.5,403.6 L381.1,403.4 L381.7,403.4 L382.3,403.6 L382.9,403.9 L383.5,404.0" fill="none" stroke="#d8392b" stroke-width="1.08" stroke-linejoin="round"/>
<path d="M303.2,403.2 L303.8,403.1 L304.4,402.5 L305.0,402.5 L305.6,402.6 L306.2,402.8 L306.8,402.6 L307.4,402.3 L308.0,402.2 L308.6,402.0 L309.2,401.3 L309.8,401.0 L310.4,400.6 L311.0,400.0 L311.7,398.7 L312.3,398.5 L312.9,397.3 L313.5,394.7 L314.1,393.4 L314.7,392.3 L315.3,389.5 L315.9,388.6 L316.5,386.5 L317.1,382.5 L317.7,381.7 L318.3,379.0 L318.9,377.2 L319.5,372.7 L320.1,370.6 L320.7,368.8 L321.3,365.4 L321.9,361.3 L322.5,359.2 L323.1,359.4 L323.7,356.3 L324.3,352.3 L324.9,350.2 L325.5,347.8 L326.1,346.5 L326.7,346.7 L327.4,346.4 L328.0,346.9 L328.6,347.5 L329.2,348.7 L329.8,349.3 L330.4,354.2 L331.0,357.3 L331.6,360.2 L332.2,366.1 L332.8,369.1 L333.4,371.7 L334.0,373.3 L334.6,376.0 L335.2,381.4 L335.8,383.1 L336.4,385.2 L337.0,387.9 L337.6,390.9 L338.2,392.8 L338.8,394.8 L339.4,395.0 L340.0,395.9 L340.6,395.8 L341.2,396.4 L341.8,396.5 L342.4,397.2 L343.0,398.4 L343.7,397.9 L344.3,398.4 L344.9,399.0 L345.5,399.6 L346.1,398.9 L346.7,397.7 L347.3,398.6 L347.9,398.6 L348.5,398.7 L349.1,399.2 L349.7,399.4 L350.3,399.6 L350.9,399.3 L351.5,399.1 L352.1,399.0 L352.7,399.7 L353.3,399.7 L353.9,400.3 L354.5,400.2 L355.1,400.4 L355.7,399.7 L356.3,399.4 L356.9,399.6 L357.5,399.5 L358.1,399.9 L358.7,400.5 L359.3,400.6 L360.0,400.8 L360.6,400.7 L361.2,401.1 L361.8,401.6 L362.4,401.1 L363.0,401.3 L363.6,400.7 L364.2,400.8 L364.8,400.9 L365.4,401.3 L366.0,401.3 L366.6,401.3 L367.2,401.6 L367.8,401.8 L368.4,401.6 L369.0,402.1 L369.6,402.0 L370.2,402.2 L370.8,401.8 L371.4,401.8 L372.0,402.1 L372.6,401.8 L373.2,401.8 L373.8,402.2 L374.4,401.9 L375.0,402.3 L375.7,402.4 L376.3,403.0 L376.9,402.6 L377.5,402.4 L378.1,402.6 L378.7,402.5 L379.3,402.9 L379.9,402.2 L380.5,402.4 L381.1,402.5 L381.7,402.3 L382.3,402.5 L382.9,402.6 L383.5,402.5" fill="none" stroke="#000000" stroke-width="1.45" stroke-linejoin="round"/>
<line x1="303.7" y1="356.5" x2="303.7" y2="404.0" stroke="#000000" stroke-width="1.4"/>
<line x1="383.2" y1="360.0" x2="383.2" y2="404.0" stroke="#6a2a4a" stroke-width="1.4"/>
<path d="M302.4,326.6H383.5V404.0" fill="none" stroke="#5a5a5a" stroke-width="0.9"/>
<line x1="303.2" y1="326.6" x2="303.2" y2="404.0" stroke="#5a5a5a" stroke-width="0.9"/>
<line x1="302.7" y1="404.0" x2="384.0" y2="404.0" stroke="#111" stroke-width="1"/>
<path d="M303.2,404.0v2.0M309.2,404.0v1.1M312.8,404.0v1.1M315.3,404.0v1.1M317.2,404.0v1.1M318.8,404.0v1.1M320.2,404.0v1.1M321.3,404.0v1.1M322.4,404.0v1.1M323.3,404.0v2.0M329.3,404.0v1.1M332.9,404.0v1.1M335.4,404.0v1.1M337.3,404.0v1.1M338.9,404.0v1.1M340.2,404.0v1.1M341.4,404.0v1.1M342.4,404.0v1.1M343.4,404.0v2.0M349.4,404.0v1.1M352.9,404.0v1.1M355.4,404.0v1.1M357.4,404.0v1.1M359.0,404.0v1.1M360.3,404.0v1.1M361.5,404.0v1.1M362.5,404.0v1.1M363.4,404.0v2.0M369.5,404.0v1.1M373.0,404.0v1.1M375.5,404.0v1.1M377.5,404.0v1.1M379.0,404.0v1.1M380.4,404.0v1.1M381.6,404.0v1.1M382.6,404.0v1.1M383.5,404.0v2" stroke="#222" stroke-width="0.6"/>
<path d="M303.2,400.8h-1.1M303.2,397.6h-1.1M303.2,394.4h-1.1M303.2,391.2h-1.1M303.2,388.0h-1.1M303.2,384.8h-1.1M303.2,381.6h-1.1M303.2,378.4h-1.1M303.2,375.2h-1.1M303.2,372.0h-1.1M303.2,368.8h-1.1M303.2,365.6h-1.1M303.2,362.4h-1.1M303.2,359.2h-1.1M303.2,356.0h-1.1M303.2,352.8h-1.1M303.2,349.6h-1.1M303.2,346.4h-1.1M303.2,343.2h-1.1M303.2,340.0h-1.1M303.2,336.8h-1.1M303.2,333.6h-1.1M303.2,330.4h-1.1" stroke="#555" stroke-width="0.7"/>
<text x="344.8" y="336.4" font-size="7.6" text-anchor="middle" font-family="Liberation Sans, sans-serif" stroke="#000" stroke-width="0.28"><tspan fill="#6f786f" stroke="#6f786f">21</tspan><tspan fill="#6f786f" stroke="#6f786f">/</tspan><tspan fill="#96c85e" stroke="#96c85e">22</tspan><tspan fill="#96c85e" stroke="#96c85e">/</tspan><tspan fill="#4659a8" stroke="#4659a8">50</tspan><tspan fill="#4659a8" stroke="#4659a8">/</tspan><tspan fill="#d8392b" stroke="#d8392b">59</tspan><tspan fill="#000000" stroke="#000000">/</tspan><tspan fill="#000000" stroke="#000000">17</tspan></text>
<path d="M23.2,478.1 L23.8,475.9 L24.4,473.6 L25.0,471.0 L25.6,468.2 L26.2,465.3 L26.8,462.2 L27.4,458.9 L28.0,455.6 L28.6,452.3 L29.2,449.0 L29.8,445.8 L30.4,442.6 L31.0,439.7 L31.6,437.1 L32.2,434.7 L32.8,432.7 L33.4,431.1 L34.0,429.9 L34.6,429.2 L35.2,428.9 L35.8,429.7 L36.4,431.9 L37.0,435.5 L37.6,440.2 L38.2,445.6 L38.8,451.4 L39.4,457.4 L40.0,463.1 L40.6,468.5 L41.2,473.3 L41.8,477.4 L42.4,480.9 L43.0,483.6 L43.6,485.8 L44.2,487.4 L44.8,488.6 L45.4,489.5 L46.0,490.1 L46.6,490.5 L47.2,490.8 L47.8,490.9 L48.4,491.1 L49.0,491.1 L49.6,491.2 L50.2,491.2 L50.8,491.2 L51.4,491.2 L52.0,491.2 L52.6,491.2 L53.2,491.2 L53.8,491.2 L54.4,491.2 L55.0,491.2 L55.6,491.2 L56.2,491.2 L56.8,491.2 L57.4,491.2 L58.0,491.2 L58.6,491.2 L59.2,491.2 L59.8,491.2 L60.4,491.2 L61.0,491.2 L61.6,491.2 L62.2,491.2 L62.8,491.2 L63.4,491.2 L64.0,491.2 L64.6,491.2 L65.2,491.2 L65.8,491.2 L66.4,491.2 L67.0,491.2 L67.6,491.2 L68.2,491.2 L68.8,491.2 L69.4,491.2 L70.0,491.2 L70.6,491.2 L71.2,491.2 L71.8,491.2 L72.4,491.2 L73.0,491.2 L73.6,491.2 L74.2,491.2 L74.8,491.2 L75.4,491.2 L76.0,491.2 L76.6,491.2 L77.2,491.2 L77.8,491.2 L78.4,491.2 L79.0,491.2 L79.6,491.2 L80.2,491.2 L80.8,491.2 L81.4,491.2 L82.0,491.2 L82.6,491.2 L83.2,491.2 L83.8,491.2 L84.4,491.2 L85.0,491.2 L85.6,491.2 L86.2,491.2 L86.8,491.2 L87.4,491.2 L88.0,491.2 L88.6,491.2 L89.2,491.2 L89.8,491.2 L90.4,491.2 L91.0,491.2 L91.6,491.2 L92.2,491.2 L92.8,491.2 L93.4,491.2 L94.0,491.2 L94.6,491.2 L95.2,491.2 L95.8,491.2 L96.4,491.2 L97.0,491.2 L97.6,491.2 L98.2,491.2 L98.8,491.2 L99.4,491.2 L100.0,491.2 L100.6,491.2 L101.2,491.2 L101.8,491.2 L102.4,491.2 L103.0,491.2 L103.6,491.2 L104.2,491.2 L104.2,491.2 L23.2,491.2Z" fill="#dadada" stroke="#606060" stroke-width="1.0" stroke-linejoin="round"/>
<path d="M23.2,480.0 L23.8,478.2 L24.4,476.2 L25.0,474.0 L25.6,471.6 L26.2,469.1 L26.8,466.4 L27.4,463.5 L28.0,460.6 L28.6,457.5 L29.2,454.4 L29.8,451.3 L30.4,448.2 L31.0,445.2 L31.6,442.4 L32.2,439.7 L32.8,437.3 L33.4,435.1 L34.0,433.3 L34.6,431.8 L35.2,430.7 L35.8,430.0 L36.4,429.7 L37.0,430.0 L37.6,431.2 L38.2,433.1 L38.8,435.9 L39.4,439.2 L40.0,443.0 L40.6,447.2 L41.2,451.7 L41.8,456.1 L42.4,460.5 L43.0,464.8 L43.6,468.8 L44.2,472.4 L44.8,475.7 L45.4,478.6 L46.0,481.1 L46.6,483.2 L47.2,485.0 L47.8,486.4 L48.4,487.6 L49.0,488.5 L49.6,489.2 L50.2,489.8 L50.8,490.2 L51.4,490.5 L52.0,490.7 L52.6,490.9 L53.2,491.0 L53.8,491.0 L54.4,491.1 L55.0,491.1 L55.6,491.2 L56.2,491.2 L56.8,491.2 L57.4,491.2 L58.0,491.2 L58.6,491.2 L59.2,491.2 L59.8,491.2 L60.4,491.2 L61.0,491.2 L61.6,491.2 L62.2,491.2 L62.8,491.2 L63.4,491.2 L64.0,491.2 L64.6,491.2 L65.2,491.2 L65.8,491.2 L66.4,491.2 L67.0,491.2 L67.6,491.2 L68.2,491.2 L68.8,491.2 L69.4,491.2 L70.0,491.2 L70.6,491.2 L71.2,491.2 L71.8,491.2 L72.4,491.2 L73.0,491.2 L73.6,491.2 L74.2,491.2 L74.8,491.2 L75.4,491.2 L76.0,491.2 L76.6,491.2 L77.2,491.2 L77.8,491.2 L78.4,491.2 L79.0,491.2 L79.6,491.2 L80.2,491.2 L80.8,491.2 L81.4,491.2 L82.0,491.2 L82.6,491.2 L83.2,491.2 L83.8,491.2 L84.4,491.2 L85.0,491.2 L85.6,491.2 L86.2,491.2 L86.8,491.2 L87.4,491.2 L88.0,491.2 L88.6,491.2 L89.2,491.2 L89.8,491.2 L90.4,491.2 L91.0,491.2 L91.6,491.2 L92.2,491.2 L92.8,491.2 L93.4,491.2 L94.0,491.2 L94.6,491.2 L95.2,491.2 L95.8,491.2 L96.4,491.2 L97.0,491.2 L97.6,491.2 L98.2,491.2 L98.8,491.2 L99.4,491.2 L100.0,491.2 L100.6,491.2 L101.2,491.2 L101.8,491.2 L102.4,491.2 L103.0,491.2 L103.6,491.2 L104.2,491.2" fill="none" stroke="#7cbf4a" stroke-width="1.08" stroke-linejoin="round"/>
<path d="M23.2,483.1 L23.8,481.8 L24.4,480.5 L25.0,479.0 L25.6,477.4 L26.2,475.6 L26.8,473.7 L27.4,471.7 L28.0,469.5 L28.6,467.2 L29.2,464.8 L29.8,462.3 L30.4,459.7 L31.0,457.0 L31.6,454.3 L32.2,451.6 L32.8,448.8 L33.4,446.1 L34.0,443.5 L34.6,441.0 L35.2,438.6 L35.8,436.3 L36.4,434.2 L37.0,432.3 L37.6,430.7 L38.2,429.3 L38.8,428.2 L39.4,427.3 L40.0,426.8 L40.6,426.6 L41.2,426.9 L41.8,428.0 L42.4,430.0 L43.0,432.6 L43.6,435.9 L44.2,439.7 L44.8,443.9 L45.4,448.3 L46.0,452.8 L46.6,457.3 L47.2,461.6 L47.8,465.8 L48.4,469.6 L49.0,473.1 L49.6,476.3 L50.2,479.0 L50.8,481.4 L51.4,483.4 L52.0,485.1 L52.6,486.5 L53.2,487.6 L53.8,488.5 L54.4,489.2 L55.0,489.7 L55.6,490.1 L56.2,490.4 L56.8,490.7 L57.4,490.8 L58.0,490.9 L58.6,491.0 L59.2,491.1 L59.8,491.1 L60.4,491.2 L61.0,491.2 L61.6,491.2 L62.2,491.2 L62.8,491.2 L63.4,491.2 L64.0,491.2 L64.6,491.2 L65.2,491.2 L65.8,491.2 L66.4,491.2 L67.0,491.2 L67.6,491.2 L68.2,491.2 L68.8,491.2 L69.4,491.2 L70.0,491.2 L70.6,491.2 L71.2,491.2 L71.8,491.2 L72.4,491.2 L73.0,491.2 L73.6,491.2 L74.2,491.2 L74.8,491.2 L75.4,491.2 L76.0,491.2 L76.6,491.2 L77.2,491.2 L77.8,491.2 L78.4,491.2 L79.0,491.2 L79.6,491.2 L80.2,491.2 L80.8,491.2 L81.4,491.2 L82.0,491.2 L82.6,491.2 L83.2,491.2 L83.8,491.2 L84.4,491.2 L85.0,491.2 L85.6,491.2 L86.2,491.2 L86.8,491.2 L87.4,491.2 L88.0,491.2 L88.6,491.2 L89.2,491.2 L89.8,491.2 L90.4,491.2 L91.0,491.2 L91.6,491.2 L92.2,491.2 L92.8,491.2 L93.4,491.2 L94.0,491.2 L94.6,491.2 L95.2,491.2 L95.8,491.2 L96.4,491.2 L97.0,491.2 L97.6,491.2 L98.2,491.2 L98.8,491.2 L99.4,491.2 L100.0,491.2 L100.6,491.2 L101.2,491.2 L101.8,491.2 L102.4,491.2 L103.0,491.2 L103.6,491.2 L104.2,491.2" fill="none" stroke="#4659a8" stroke-width="1.08" stroke-linejoin="round"/>
<path d="M23.2,487.1 L23.8,486.3 L24.4,485.5 L25.0,484.4 L25.6,483.3 L26.2,482.0 L26.8,480.6 L27.4,479.0 L28.0,477.2 L28.6,475.3 L29.2,473.2 L29.8,471.0 L30.4,468.6 L31.0,466.1 L31.6,463.5 L32.2,460.7 L32.8,457.9 L33.4,455.0 L34.0,452.0 L34.6,449.1 L35.2,446.2 L35.8,443.4 L36.4,440.6 L37.0,438.1 L37.6,435.7 L38.2,433.5 L38.8,431.6 L39.4,429.9 L40.0,428.6 L40.6,427.6 L41.2,426.9 L41.8,426.6 L42.4,426.8 L43.0,427.7 L43.6,429.4 L44.2,431.7 L44.8,434.7 L45.4,438.2 L46.0,442.1 L46.6,446.3 L47.2,450.6 L47.8,454.9 L48.4,459.2 L49.0,463.3 L49.6,467.2 L50.2,470.8 L50.8,474.1 L51.4,477.0 L52.0,479.6 L52.6,481.8 L53.2,483.7 L53.8,485.3 L54.4,486.6 L55.0,487.6 L55.6,488.5 L56.2,489.2 L56.8,489.7 L57.4,490.1 L58.0,490.4 L58.6,490.6 L59.2,490.8 L59.8,490.9 L60.4,491.0 L61.0,491.1 L61.6,491.1 L62.2,491.1 L62.8,491.2 L63.4,491.2 L64.0,491.2 L64.6,491.2 L65.2,491.2 L65.8,491.2 L66.4,491.2 L67.0,491.2 L67.6,491.2 L68.2,491.2 L68.8,491.2 L69.4,491.2 L70.0,491.2 L70.6,491.2 L71.2,491.2 L71.8,491.2 L72.4,491.2 L73.0,491.2 L73.6,491.2 L74.2,491.2 L74.8,491.2 L75.4,491.2 L76.0,491.2 L76.6,491.2 L77.2,491.2 L77.8,491.2 L78.4,491.2 L79.0,491.2 L79.6,491.2 L80.2,491.2 L80.8,491.2 L81.4,491.2 L82.0,491.2 L82.6,491.2 L83.2,491.2 L83.8,491.2 L84.4,491.2 L85.0,491.2 L85.6,491.2 L86.2,491.2 L86.8,491.2 L87.4,491.2 L88.0,491.2 L88.6,491.2 L89.2,491.2 L89.8,491.2 L90.4,491.2 L91.0,491.2 L91.6,491.2 L92.2,491.2 L92.8,491.2 L93.4,491.2 L94.0,491.2 L94.6,491.2 L95.2,491.2 L95.8,491.2 L96.4,491.2 L97.0,491.2 L97.6,491.2 L98.2,491.2 L98.8,491.2 L99.4,491.2 L100.0,491.2 L100.6,491.2 L101.2,491.2 L101.8,491.2 L102.4,491.2 L103.0,491.2 L103.6,491.2 L104.2,491.2" fill="none" stroke="#d8392b" stroke-width="1.22" stroke-linejoin="round"/>
<path d="M23.2,491.1 L23.8,491.1 L24.4,490.9 L25.0,491.2 L25.6,491.2 L26.2,491.2 L26.8,491.2 L27.4,491.1 L28.0,490.8 L28.6,490.9 L29.2,490.9 L29.8,490.7 L30.4,490.8 L31.0,490.9 L31.6,491.1 L32.2,490.9 L32.8,491.1 L33.4,491.1 L34.0,491.2 L34.6,491.2 L35.2,491.2 L35.8,491.0 L36.4,491.1 L37.0,491.0 L37.6,491.2 L38.2,491.2 L38.8,491.0 L39.4,491.1 L40.0,491.1 L40.6,490.9 L41.2,491.1 L41.8,490.9 L42.4,491.1 L43.0,491.0 L43.6,491.0 L44.2,491.1 L44.8,491.2 L45.4,491.2 L46.0,491.0 L46.6,490.9 L47.2,491.1 L47.8,491.2 L48.4,491.1 L49.0,491.1 L49.6,490.9 L50.2,490.7 L50.8,491.0 L51.4,490.8 L52.0,490.7 L52.6,490.4 L53.2,489.8 L53.8,489.0 L54.4,487.6 L55.0,485.2 L55.6,482.6 L56.2,479.4 L56.8,474.5 L57.4,468.5 L58.0,462.2 L58.6,455.9 L59.2,448.4 L59.8,442.4 L60.4,436.3 L61.0,431.5 L61.6,428.8 L62.2,428.9 L62.8,430.3 L63.4,433.4 L64.0,438.8 L64.6,444.8 L65.2,450.5 L65.8,456.3 L66.4,460.3 L67.0,463.9 L67.6,466.9 L68.2,469.9 L68.8,471.7 L69.4,472.6 L70.0,472.7 L70.6,474.1 L71.2,474.3 L71.8,474.6 L72.4,474.6 L73.0,473.5 L73.6,474.2 L74.2,474.0 L74.8,474.6 L75.4,474.9 L76.0,474.0 L76.6,474.4 L77.2,474.7 L77.8,475.5 L78.4,475.6 L79.0,475.9 L79.6,476.4 L80.2,476.5 L80.8,477.9 L81.4,478.1 L82.0,478.2 L82.6,478.6 L83.2,478.4 L83.8,479.1 L84.4,479.3 L85.0,480.5 L85.6,481.1 L86.2,481.4 L86.8,482.3 L87.4,483.6 L88.0,485.0 L88.6,485.7 L89.2,486.4 L89.8,487.3 L90.4,488.0 L91.0,488.3 L91.6,488.9 L92.2,489.5 L92.8,489.8 L93.4,490.0 L94.0,489.9 L94.6,490.1 L95.2,490.2 L95.8,490.1 L96.4,490.4 L97.0,490.4 L97.6,490.6 L98.2,490.6 L98.8,490.6 L99.4,490.7 L100.0,490.7 L100.6,490.7 L101.2,490.8 L101.8,490.9 L102.4,490.9 L103.0,491.0 L103.6,490.9 L104.2,491.0" fill="none" stroke="#000000" stroke-width="1.45" stroke-linejoin="round"/>
<line x1="23.7" y1="414.3" x2="23.7" y2="466.0" stroke="#a0a040" stroke-width="1.4"/>
<line x1="23.7" y1="466.0" x2="23.7" y2="491.2" stroke="#b03030" stroke-width="1.4"/>
<path d="M22.4,414.3H104.2V491.2" fill="none" stroke="#5a5a5a" stroke-width="0.9"/>
<line x1="23.2" y1="414.3" x2="23.2" y2="491.2" stroke="#5a5a5a" stroke-width="0.9"/>
<line x1="22.7" y1="491.2" x2="104.7" y2="491.2" stroke="#111" stroke-width="1"/>
<path d="M23.2,491.2v2.0M29.3,491.2v1.1M32.9,491.2v1.1M35.4,491.2v1.1M37.4,491.2v1.1M39.0,491.2v1.1M40.3,491.2v1.1M41.5,491.2v1.1M42.5,491.2v1.1M43.5,491.2v2.0M49.5,491.2v1.1M53.1,491.2v1.1M55.6,491.2v1.1M57.6,491.2v1.1M59.2,491.2v1.1M60.6,491.2v1.1M61.7,491.2v1.1M62.8,491.2v1.1M63.7,491.2v2.0M69.8,491.2v1.1M73.4,491.2v1.1M75.9,491.2v1.1M77.9,491.2v1.1M79.5,491.2v1.1M80.8,491.2v1.1M82.0,491.2v1.1M83.0,491.2v1.1M84.0,491.2v2.0M90.0,491.2v1.1M93.6,491.2v1.1M96.1,491.2v1.1M98.1,491.2v1.1M99.7,491.2v1.1M101.1,491.2v1.1M102.2,491.2v1.1M103.3,491.2v1.1M104.2,491.2v2" stroke="#222" stroke-width="0.6"/>
<path d="M23.2,488.0h-1.1M23.2,484.8h-1.1M23.2,481.6h-1.1M23.2,478.4h-1.1M23.2,475.2h-1.1M23.2,472.0h-1.1M23.2,468.8h-1.1M23.2,465.6h-1.1M23.2,462.4h-1.1M23.2,459.2h-1.1M23.2,456.0h-1.1M23.2,452.8h-1.1M23.2,449.6h-1.1M23.2,446.4h-1.1M23.2,443.2h-1.1M23.2,440.0h-1.1M23.2,436.8h-1.1M23.2,433.6h-1.1M23.2,430.4h-1.1M23.2,427.2h-1.1M23.2,424.0h-1.1M23.2,420.8h-1.1M23.2,417.6h-1.1" stroke="#555" stroke-width="0.7"/>
<text x="64.0" y="423.6" font-size="7.6" text-anchor="middle" font-family="Liberation Sans, sans-serif" stroke="#000" stroke-width="0.28"><tspan fill="#6f786f" stroke="#6f786f">3</tspan><tspan fill="#6f786f" stroke="#6f786f">/</tspan><tspan fill="#96c85e" stroke="#96c85e">5</tspan><tspan fill="#96c85e" stroke="#96c85e">/</tspan><tspan fill="#4659a8" stroke="#4659a8">6</tspan><tspan fill="#4659a8" stroke="#4659a8">/</tspan><tspan fill="#d8392b" stroke="#d8392b">8</tspan><tspan fill="#000000" stroke="#000000">/</tspan><tspan fill="#000000" stroke="#000000">138</tspan></text>
<text x="20.1" y="501.8" font-size="7.2" font-family="Liberation Sans, sans-serif" stroke="#000" stroke-width="0.28">10<tspan dx="0.2" dy="-3.2" font-size="5.8" stroke-width="0.12">0</tspan></text>
<text x="39.6" y="501.8" font-size="7.2" font-family="Liberation Sans, sans-serif" stroke="#000" stroke-width="0.28">10<tspan dx="0.2" dy="-3.2" font-size="5.8" stroke-width="0.12">1</tspan></text>
<text x="59.0" y="501.8" font-size="7.2" font-family="Liberation Sans, sans-serif" stroke="#000" stroke-width="0.28">10<tspan dx="0.2" dy="-3.2" font-size="5.8" stroke-width="0.12">2</tspan></text>
<text x="78.5" y="501.8" font-size="7.2" font-family="Liberation Sans, sans-serif" stroke="#000" stroke-width="0.28">10<tspan dx="0.2" dy="-3.2" font-size="5.8" stroke-width="0.12">3</tspan></text>
<text x="97.9" y="501.8" font-size="7.2" font-family="Liberation Sans, sans-serif" stroke="#000" stroke-width="0.28">10<tspan dx="0.2" dy="-3.2" font-size="5.8" stroke-width="0.12">4</tspan></text>
<line x1="23.2" y1="509.6" x2="101.2" y2="509.6" stroke="#000" stroke-width="1.2"/>
<path d="M105.2,509.6 L98.7,507.4 L98.7,511.8Z" fill="#000"/>
<text x="63.7" y="522.4" font-size="8.6" text-anchor="middle" font-family="Liberation Sans, sans-serif" stroke="#000" stroke-width="0.28">ECA</text>
<path d="M116.4,483.9 L117.0,482.7 L117.6,481.3 L118.2,479.8 L118.8,478.1 L119.4,476.2 L120.0,474.2 L120.6,472.1 L121.2,469.8 L121.8,467.4 L122.4,464.9 L123.0,462.4 L123.6,459.8 L124.2,457.1 L124.8,454.5 L125.4,451.9 L126.0,449.4 L126.6,447.0 L127.2,444.8 L127.8,442.7 L128.4,440.9 L129.0,439.3 L129.6,438.0 L130.2,437.0 L130.8,436.4 L131.4,436.0 L132.0,436.6 L132.6,438.6 L133.2,442.0 L133.8,446.4 L134.4,451.4 L135.0,456.8 L135.6,462.1 L136.2,467.0 L136.8,471.5 L137.4,475.3 L138.0,478.5 L138.6,481.0 L139.2,482.9 L139.8,484.3 L140.4,485.4 L141.0,486.1 L141.6,486.7 L142.2,487.0 L142.8,487.3 L143.4,487.5 L144.0,487.7 L144.6,487.9 L145.2,488.1 L145.8,488.2 L146.4,488.4 L147.0,488.6 L147.6,488.8 L148.2,488.9 L148.8,489.1 L149.4,489.3 L150.0,489.4 L150.6,489.6 L151.2,489.8 L151.8,489.9 L152.4,490.0 L153.0,490.2 L153.6,490.3 L154.2,490.4 L154.8,490.5 L155.4,490.6 L156.0,490.7 L156.6,490.8 L157.2,490.8 L157.8,490.9 L158.4,490.9 L159.0,491.0 L159.6,491.0 L160.2,491.0 L160.8,491.1 L161.4,491.1 L162.0,491.1 L162.6,491.1 L163.2,491.1 L163.8,491.2 L164.4,491.2 L165.0,491.2 L165.6,491.2 L166.2,491.2 L166.8,491.2 L167.4,491.2 L168.0,491.2 L168.6,491.2 L169.2,491.2 L169.8,491.2 L170.4,491.2 L171.0,491.2 L171.6,491.2 L172.2,491.2 L172.8,491.2 L173.4,491.2 L174.0,491.2 L174.6,491.2 L175.2,491.2 L175.8,491.2 L176.4,491.2 L177.0,491.2 L177.6,491.2 L178.2,491.2 L178.8,491.2 L179.4,491.2 L180.0,491.2 L180.6,491.2 L181.2,491.2 L181.8,491.2 L182.4,491.2 L183.0,491.2 L183.6,491.2 L184.2,491.2 L184.8,491.2 L185.4,491.2 L186.0,491.2 L186.6,491.2 L187.2,491.2 L187.8,491.2 L188.4,491.2 L189.0,491.2 L189.6,491.2 L190.2,491.2 L190.8,491.2 L191.4,491.2 L192.0,491.2 L192.6,491.2 L193.2,491.2 L193.8,491.2 L194.4,491.2 L195.0,491.2 L195.6,491.2 L196.2,491.2 L196.8,491.2 L197.4,491.2 L197.4,491.2 L116.4,491.2Z" fill="#dadada" stroke="#606060" stroke-width="1.0" stroke-linejoin="round"/>
<path d="M116.4,475.9 L117.0,474.2 L117.6,472.4 L118.2,470.5 L118.8,468.5 L119.4,466.4 L120.0,464.2 L120.6,462.0 L121.2,459.7 L121.8,457.5 L122.4,455.2 L123.0,452.9 L123.6,450.6 L124.2,448.4 L124.8,446.3 L125.4,444.3 L126.0,442.4 L126.6,440.7 L127.2,439.1 L127.8,437.7 L128.4,436.6 L129.0,435.6 L129.6,434.7 L130.2,434.1 L130.8,433.7 L131.4,433.6 L132.0,434.7 L132.6,436.8 L133.2,439.9 L133.8,443.5 L134.4,447.5 L135.0,451.5 L135.6,455.5 L136.2,459.3 L136.8,462.8 L137.4,466.1 L138.0,469.2 L138.6,472.0 L139.2,474.2 L139.8,476.0 L140.4,477.3 L141.0,478.4 L141.6,479.2 L142.2,479.9 L142.8,480.5 L143.4,481.0 L144.0,481.4 L144.6,481.8 L145.2,482.2 L145.8,482.7 L146.4,483.1 L147.0,483.5 L147.6,483.9 L148.2,484.3 L148.8,484.8 L149.4,485.2 L150.0,485.6 L150.6,486.0 L151.2,486.4 L151.8,486.7 L152.4,487.1 L153.0,487.5 L153.6,487.8 L154.2,488.1 L154.8,488.4 L155.4,488.7 L156.0,488.9 L156.6,489.2 L157.2,489.4 L157.8,489.6 L158.4,489.8 L159.0,489.9 L159.6,490.1 L160.2,490.2 L160.8,490.3 L161.4,490.5 L162.0,490.6 L162.6,490.6 L163.2,490.7 L163.8,490.8 L164.4,490.8 L165.0,490.9 L165.6,490.9 L166.2,491.0 L166.8,491.0 L167.4,491.0 L168.0,491.1 L168.6,491.1 L169.2,491.1 L169.8,491.1 L170.4,491.1 L171.0,491.2 L171.6,491.2 L172.2,491.2 L172.8,491.2 L173.4,491.2 L174.0,491.2 L174.6,491.2 L175.2,491.2 L175.8,491.2 L176.4,491.2 L177.0,491.2 L177.6,491.2 L178.2,491.2 L178.8,491.2 L179.4,491.2 L180.0,491.2 L180.6,491.2 L181.2,491.2 L181.8,491.2 L182.4,491.2 L183.0,491.2 L183.6,491.2 L184.2,491.2 L184.8,491.2 L185.4,491.2 L186.0,491.2 L186.6,491.2 L187.2,491.2 L187.8,491.2 L188.4,491.2 L189.0,491.2 L189.6,491.2 L190.2,491.2 L190.8,491.2 L191.4,491.2 L192.0,491.2 L192.6,491.2 L193.2,491.2 L193.8,491.2 L194.4,491.2 L195.0,491.2 L195.6,491.2 L196.2,491.2 L196.8,491.2 L197.4,491.2" fill="none" stroke="#7cbf4a" stroke-width="1.08" stroke-linejoin="round"/>
<path d="M116.4,479.5 L117.0,478.2 L117.6,476.7 L118.2,475.2 L118.8,473.6 L119.4,471.9 L120.0,470.1 L120.6,468.2 L121.2,466.3 L121.8,464.3 L122.4,462.2 L123.0,460.2 L123.6,458.1 L124.2,456.0 L124.8,453.9 L125.4,451.8 L126.0,449.7 L126.6,447.7 L127.2,445.8 L127.8,443.9 L128.4,442.1 L129.0,440.5 L129.6,438.9 L130.2,437.4 L130.8,436.1 L131.4,434.9 L132.0,433.8 L132.6,432.9 L133.2,432.2 L133.8,432.0 L134.4,432.5 L135.0,433.7 L135.6,435.5 L136.2,437.7 L136.8,440.3 L137.4,443.2 L138.0,446.2 L138.6,449.4 L139.2,452.5 L139.8,455.5 L140.4,458.4 L141.0,461.1 L141.6,463.6 L142.2,465.9 L142.8,468.0 L143.4,469.9 L144.0,471.5 L144.6,473.0 L145.2,474.3 L145.8,475.4 L146.4,476.5 L147.0,477.5 L147.6,478.4 L148.2,479.3 L148.8,480.1 L149.4,480.9 L150.0,481.7 L150.6,482.5 L151.2,483.2 L151.8,483.9 L152.4,484.6 L153.0,485.2 L153.6,485.8 L154.2,486.4 L154.8,486.9 L155.4,487.4 L156.0,487.9 L156.6,488.3 L157.2,488.7 L157.8,489.0 L158.4,489.3 L159.0,489.6 L159.6,489.8 L160.2,490.0 L160.8,490.2 L161.4,490.4 L162.0,490.5 L162.6,490.6 L163.2,490.7 L163.8,490.8 L164.4,490.9 L165.0,491.0 L165.6,491.0 L166.2,491.0 L166.8,491.1 L167.4,491.1 L168.0,491.1 L168.6,491.1 L169.2,491.2 L169.8,491.2 L170.4,491.2 L171.0,491.2 L171.6,491.2 L172.2,491.2 L172.8,491.2 L173.4,491.2 L174.0,491.2 L174.6,491.2 L175.2,491.2 L175.8,491.2 L176.4,491.2 L177.0,491.2 L177.6,491.2 L178.2,491.2 L178.8,491.2 L179.4,491.2 L180.0,491.2 L180.6,491.2 L181.2,491.2 L181.8,491.2 L182.4,491.2 L183.0,491.2 L183.6,491.2 L184.2,491.2 L184.8,491.2 L185.4,491.2 L186.0,491.2 L186.6,491.2 L187.2,491.2 L187.8,491.2 L188.4,491.2 L189.0,491.2 L189.6,491.2 L190.2,491.2 L190.8,491.2 L191.4,491.2 L192.0,491.2 L192.6,491.2 L193.2,491.2 L193.8,491.2 L194.4,491.2 L195.0,491.2 L195.6,491.2 L196.2,491.2 L196.8,491.2 L197.4,491.2" fill="none" stroke="#4659a8" stroke-width="1.08" stroke-linejoin="round"/>
<path d="M116.4,486.3 L117.0,485.5 L117.6,484.7 L118.2,483.9 L118.8,482.9 L119.4,481.8 L120.0,480.7 L120.6,479.5 L121.2,478.1 L121.8,476.7 L122.4,475.2 L123.0,473.5 L123.6,471.8 L124.2,470.1 L124.8,468.2 L125.4,466.3 L126.0,464.3 L126.6,462.3 L127.2,460.2 L127.8,458.1 L128.4,456.0 L129.0,453.9 L129.6,451.8 L130.2,449.7 L130.8,447.7 L131.4,445.7 L132.0,443.8 L132.6,442.0 L133.2,440.2 L133.8,438.6 L134.4,437.0 L135.0,435.6 L135.6,434.3 L136.2,433.1 L136.8,432.1 L137.4,431.3 L138.0,431.1 L138.6,431.4 L139.2,432.2 L139.8,433.6 L140.4,435.4 L141.0,437.6 L141.6,440.1 L142.2,442.9 L142.8,445.8 L143.4,448.8 L144.0,451.9 L144.6,454.9 L145.2,457.9 L145.8,460.7 L146.4,463.4 L147.0,465.9 L147.6,468.3 L148.2,470.4 L148.8,472.4 L149.4,474.2 L150.0,475.9 L150.6,477.4 L151.2,478.8 L151.8,480.1 L152.4,481.3 L153.0,482.4 L153.6,483.4 L154.2,484.3 L154.8,485.1 L155.4,485.9 L156.0,486.6 L156.6,487.2 L157.2,487.8 L157.8,488.3 L158.4,488.7 L159.0,489.1 L159.6,489.4 L160.2,489.7 L160.8,490.0 L161.4,490.2 L162.0,490.4 L162.6,490.5 L163.2,490.7 L163.8,490.8 L164.4,490.9 L165.0,490.9 L165.6,491.0 L166.2,491.0 L166.8,491.1 L167.4,491.1 L168.0,491.1 L168.6,491.1 L169.2,491.2 L169.8,491.2 L170.4,491.2 L171.0,491.2 L171.6,491.2 L172.2,491.2 L172.8,491.2 L173.4,491.2 L174.0,491.2 L174.6,491.2 L175.2,491.2 L175.8,491.2 L176.4,491.2 L177.0,491.2 L177.6,491.2 L178.2,491.2 L178.8,491.2 L179.4,491.2 L180.0,491.2 L180.6,491.2 L181.2,491.2 L181.8,491.2 L182.4,491.2 L183.0,491.2 L183.6,491.2 L184.2,491.2 L184.8,491.2 L185.4,491.2 L186.0,491.2 L186.6,491.2 L187.2,491.2 L187.8,491.2 L188.4,491.2 L189.0,491.2 L189.6,491.2 L190.2,491.2 L190.8,491.2 L191.4,491.2 L192.0,491.2 L192.6,491.2 L193.2,491.2 L193.8,491.2 L194.4,491.2 L195.0,491.2 L195.6,491.2 L196.2,491.2 L196.8,491.2 L197.4,491.2" fill="none" stroke="#d8392b" stroke-width="1.22" stroke-linejoin="round"/>
<path d="M116.4,491.1 L117.0,491.0 L117.6,491.0 L118.2,490.9 L118.8,491.1 L119.4,491.2 L120.0,491.1 L120.6,491.0 L121.2,491.0 L121.8,491.1 L122.4,491.2 L123.0,491.2 L123.6,491.0 L124.2,491.1 L124.8,491.1 L125.4,491.0 L126.0,491.1 L126.6,491.1 L127.2,491.2 L127.8,491.2 L128.4,491.1 L129.0,491.1 L129.6,491.0 L130.2,491.1 L130.8,490.9 L131.4,490.9 L132.0,491.0 L132.6,490.9 L133.2,490.7 L133.8,490.7 L134.4,490.6 L135.0,490.6 L135.6,490.3 L136.2,490.2 L136.8,490.0 L137.4,489.7 L138.0,489.1 L138.6,488.6 L139.2,487.9 L139.8,487.1 L140.4,485.9 L141.0,485.1 L141.6,483.8 L142.2,482.0 L142.8,480.7 L143.4,478.5 L144.0,476.2 L144.6,473.7 L145.2,470.7 L145.8,467.5 L146.4,463.7 L147.0,461.5 L147.6,458.4 L148.2,454.1 L148.8,451.3 L149.4,448.1 L150.0,444.5 L150.6,442.1 L151.2,439.9 L151.8,437.7 L152.4,436.2 L153.0,435.6 L153.6,435.0 L154.2,434.9 L154.8,435.8 L155.4,436.8 L156.0,438.6 L156.6,439.6 L157.2,441.5 L157.8,443.9 L158.4,446.6 L159.0,449.6 L159.6,451.9 L160.2,453.3 L160.8,455.0 L161.4,456.1 L162.0,457.1 L162.6,458.3 L163.2,458.7 L163.8,459.4 L164.4,460.3 L165.0,462.3 L165.6,464.5 L166.2,466.4 L166.8,467.4 L167.4,469.4 L168.0,471.2 L168.6,473.0 L169.2,474.9 L169.8,476.4 L170.4,478.0 L171.0,480.0 L171.6,481.5 L172.2,483.0 L172.8,484.7 L173.4,485.7 L174.0,486.6 L174.6,487.6 L175.2,488.3 L175.8,488.9 L176.4,489.5 L177.0,489.8 L177.6,490.2 L178.2,490.4 L178.8,490.6 L179.4,490.8 L180.0,490.9 L180.6,490.8 L181.2,490.9 L181.8,490.7 L182.4,490.9 L183.0,491.0 L183.6,491.0 L184.2,491.0 L184.8,491.1 L185.4,491.2 L186.0,491.1 L186.6,491.0 L187.2,491.1 L187.8,491.0 L188.4,491.0 L189.0,491.0 L189.6,491.1 L190.2,491.1 L190.8,491.1 L191.4,491.1 L192.0,491.1 L192.6,491.2 L193.2,491.0 L193.8,491.1 L194.4,491.2 L195.0,491.1 L195.6,491.0 L196.2,491.0 L196.8,491.2 L197.4,491.2" fill="none" stroke="#000000" stroke-width="1.45" stroke-linejoin="round"/>
<line x1="116.9" y1="414.3" x2="116.9" y2="462.0" stroke="#6a9a3a" stroke-width="1.4"/>
<line x1="116.9" y1="462.0" x2="116.9" y2="491.2" stroke="#902838" stroke-width="1.4"/>
<path d="M115.6,414.3H197.4V491.2" fill="none" stroke="#5a5a5a" stroke-width="0.9"/>
<line x1="116.4" y1="414.3" x2="116.4" y2="491.2" stroke="#5a5a5a" stroke-width="0.9"/>
<line x1="115.9" y1="491.2" x2="197.9" y2="491.2" stroke="#111" stroke-width="1"/>
<path d="M116.4,491.2v2.0M122.5,491.2v1.1M126.1,491.2v1.1M128.6,491.2v1.1M130.6,491.2v1.1M132.2,491.2v1.1M133.5,491.2v1.1M134.7,491.2v1.1M135.7,491.2v1.1M136.7,491.2v2.0M142.7,491.2v1.1M146.3,491.2v1.1M148.8,491.2v1.1M150.8,491.2v1.1M152.4,491.2v1.1M153.8,491.2v1.1M154.9,491.2v1.1M156.0,491.2v1.1M156.9,491.2v2.0M163.0,491.2v1.1M166.6,491.2v1.1M169.1,491.2v1.1M171.1,491.2v1.1M172.7,491.2v1.1M174.0,491.2v1.1M175.2,491.2v1.1M176.2,491.2v1.1M177.2,491.2v2.0M183.2,491.2v1.1M186.8,491.2v1.1M189.3,491.2v1.1M191.3,491.2v1.1M192.9,491.2v1.1M194.3,491.2v1.1M195.4,491.2v1.1M196.5,491.2v1.1M197.4,491.2v2" stroke="#222" stroke-width="0.6"/>
<path d="M116.4,488.0h-1.1M116.4,484.8h-1.1M116.4,481.6h-1.1M116.4,478.4h-1.1M116.4,475.2h-1.1M116.4,472.0h-1.1M116.4,468.8h-1.1M116.4,465.6h-1.1M116.4,462.4h-1.1M116.4,459.2h-1.1M116.4,456.0h-1.1M116.4,452.8h-1.1M116.4,449.6h-1.1M116.4,446.4h-1.1M116.4,443.2h-1.1M116.4,440.0h-1.1M116.4,436.8h-1.1M116.4,433.6h-1.1M116.4,430.4h-1.1M116.4,427.2h-1.1M116.4,424.0h-1.1M116.4,420.8h-1.1M116.4,417.6h-1.1" stroke="#555" stroke-width="0.7"/>
<text x="158.4" y="423.6" font-size="7.6" text-anchor="middle" font-family="Liberation Sans, sans-serif" stroke="#000" stroke-width="0.28"><tspan fill="#6f786f" stroke="#6f786f">4</tspan><tspan fill="#6f786f" stroke="#6f786f">/</tspan><tspan fill="#96c85e" stroke="#96c85e">6</tspan><tspan fill="#96c85e" stroke="#96c85e">/</tspan><tspan fill="#4659a8" stroke="#4659a8">9</tspan><tspan fill="#4659a8" stroke="#4659a8">/</tspan><tspan fill="#d8392b" stroke="#d8392b">13</tspan><tspan fill="#000000" stroke="#000000">/</tspan><tspan fill="#000000" stroke="#000000">87</tspan></text>
<text x="113.4" y="501.8" font-size="7.2" font-family="Liberation Sans, sans-serif" stroke="#000" stroke-width="0.28">10<tspan dx="0.2" dy="-3.2" font-size="5.8" stroke-width="0.12">0</tspan></text>
<text x="132.8" y="501.8" font-size="7.2" font-family="Liberation Sans, sans-serif" stroke="#000" stroke-width="0.28">10<tspan dx="0.2" dy="-3.2" font-size="5.8" stroke-width="0.12">1</tspan></text>
<text x="152.2" y="501.8" font-size="7.2" font-family="Liberation Sans, sans-serif" stroke="#000" stroke-width="0.28">10<tspan dx="0.2" dy="-3.2" font-size="5.8" stroke-width="0.12">2</tspan></text>
<text x="171.7" y="501.8" font-size="7.2" font-family="Liberation Sans, sans-serif" stroke="#000" stroke-width="0.28">10<tspan dx="0.2" dy="-3.2" font-size="5.8" stroke-width="0.12">3</tspan></text>
<text x="191.2" y="501.8" font-size="7.2" font-family="Liberation Sans, sans-serif" stroke="#000" stroke-width="0.28">10<tspan dx="0.2" dy="-3.2" font-size="5.8" stroke-width="0.12">4</tspan></text>
<line x1="116.4" y1="509.6" x2="194.4" y2="509.6" stroke="#000" stroke-width="1.2"/>
<path d="M198.4,509.6 L191.9,507.4 L191.9,511.8Z" fill="#000"/>
<text x="156.9" y="522.4" font-size="8.6" text-anchor="middle" font-family="Liberation Sans, sans-serif" stroke="#000" stroke-width="0.28">RCA</text>
<path d="M209.9,483.7 L210.5,482.7 L211.1,481.7 L211.7,480.6 L212.3,479.4 L212.9,478.1 L213.5,476.7 L214.1,475.2 L214.7,473.6 L215.3,471.9 L215.9,470.2 L216.5,468.3 L217.1,466.4 L217.7,464.4 L218.3,462.4 L218.9,460.3 L219.5,458.2 L220.1,456.0 L220.7,453.8 L221.3,451.7 L221.9,449.5 L222.5,447.4 L223.1,445.3 L223.7,443.3 L224.3,441.4 L224.9,439.5 L225.5,437.8 L226.1,436.2 L226.7,434.8 L227.3,433.5 L227.9,432.4 L228.5,431.4 L229.1,430.7 L229.7,430.1 L230.3,429.8 L230.9,429.7 L231.5,430.0 L232.1,431.4 L232.7,433.5 L233.3,436.5 L233.9,440.1 L234.5,444.3 L235.1,448.7 L235.7,453.4 L236.3,458.0 L236.9,462.5 L237.5,466.8 L238.1,470.8 L238.7,474.4 L239.3,477.6 L239.9,480.3 L240.5,482.7 L241.1,484.6 L241.7,486.2 L242.3,487.4 L242.9,488.4 L243.5,489.2 L244.1,489.8 L244.7,490.2 L245.3,490.5 L245.9,490.7 L246.5,490.9 L247.1,491.0 L247.7,491.1 L248.3,491.1 L248.9,491.1 L249.5,491.2 L250.1,491.2 L250.8,491.2 L251.4,491.2 L252.0,491.2 L252.6,491.2 L253.2,491.2 L253.8,491.2 L254.4,491.2 L255.0,491.2 L255.6,491.2 L256.2,491.2 L256.8,491.2 L257.4,491.2 L258.0,491.2 L258.6,491.2 L259.2,491.2 L259.8,491.2 L260.4,491.2 L261.0,491.2 L261.6,491.2 L262.2,491.2 L262.8,491.2 L263.4,491.2 L264.0,491.2 L264.6,491.2 L265.2,491.2 L265.8,491.2 L266.4,491.2 L267.0,491.2 L267.6,491.2 L268.2,491.2 L268.8,491.2 L269.4,491.2 L270.0,491.2 L270.6,491.2 L271.2,491.2 L271.8,491.2 L272.4,491.2 L273.0,491.2 L273.6,491.2 L274.2,491.2 L274.8,491.2 L275.4,491.2 L276.0,491.2 L276.6,491.2 L277.2,491.2 L277.8,491.2 L278.4,491.2 L279.0,491.2 L279.6,491.2 L280.2,491.2 L280.8,491.2 L281.4,491.2 L282.0,491.2 L282.6,491.2 L283.2,491.2 L283.8,491.2 L284.4,491.2 L285.0,491.2 L285.6,491.2 L286.2,491.2 L286.8,491.2 L287.4,491.2 L288.0,491.2 L288.6,491.2 L289.2,491.2 L289.8,491.2 L290.4,491.2 L290.4,491.2 L209.9,491.2Z" fill="#dadada" stroke="#606060" stroke-width="1.0" stroke-linejoin="round"/>
<path d="M209.9,483.7 L210.5,482.7 L211.1,481.7 L211.7,480.6 L212.3,479.4 L212.9,478.1 L213.5,476.7 L214.1,475.2 L214.7,473.6 L215.3,471.9 L215.9,470.2 L216.5,468.3 L217.1,466.4 L217.7,464.4 L218.3,462.4 L218.9,460.3 L219.5,458.2 L220.1,456.0 L220.7,453.8 L221.3,451.7 L221.9,449.5 L222.5,447.4 L223.1,445.3 L223.7,443.3 L224.3,441.4 L224.9,439.5 L225.5,437.8 L226.1,436.2 L226.7,434.8 L227.3,433.5 L227.9,432.4 L228.5,431.4 L229.1,430.7 L229.7,430.1 L230.3,429.8 L230.9,429.7 L231.5,430.0 L232.1,431.2 L232.7,433.2 L233.3,436.0 L233.9,439.4 L234.5,443.3 L235.1,447.5 L235.7,451.9 L236.3,456.4 L236.9,460.8 L237.5,465.0 L238.1,469.0 L238.7,472.6 L239.3,475.9 L239.9,478.7 L240.5,481.2 L241.1,483.3 L241.7,485.1 L242.3,486.5 L242.9,487.6 L243.5,488.6 L244.1,489.3 L244.7,489.8 L245.3,490.2 L245.9,490.5 L246.5,490.7 L247.1,490.9 L247.7,491.0 L248.3,491.1 L248.9,491.1 L249.5,491.1 L250.1,491.2 L250.8,491.2 L251.4,491.2 L252.0,491.2 L252.6,491.2 L253.2,491.2 L253.8,491.2 L254.4,491.2 L255.0,491.2 L255.6,491.2 L256.2,491.2 L256.8,491.2 L257.4,491.2 L258.0,491.2 L258.6,491.2 L259.2,491.2 L259.8,491.2 L260.4,491.2 L261.0,491.2 L261.6,491.2 L262.2,491.2 L262.8,491.2 L263.4,491.2 L264.0,491.2 L264.6,491.2 L265.2,491.2 L265.8,491.2 L266.4,491.2 L267.0,491.2 L267.6,491.2 L268.2,491.2 L268.8,491.2 L269.4,491.2 L270.0,491.2 L270.6,491.2 L271.2,491.2 L271.8,491.2 L272.4,491.2 L273.0,491.2 L273.6,491.2 L274.2,491.2 L274.8,491.2 L275.4,491.2 L276.0,491.2 L276.6,491.2 L277.2,491.2 L277.8,491.2 L278.4,491.2 L279.0,491.2 L279.6,491.2 L280.2,491.2 L280.8,491.2 L281.4,491.2 L282.0,491.2 L282.6,491.2 L283.2,491.2 L283.8,491.2 L284.4,491.2 L285.0,491.2 L285.6,491.2 L286.2,491.2 L286.8,491.2 L287.4,491.2 L288.0,491.2 L288.6,491.2 L289.2,491.2 L289.8,491.2 L290.4,491.2" fill="none" stroke="#7cbf4a" stroke-width="1.08" stroke-linejoin="round"/>
<path d="M209.9,483.8 L210.5,482.9 L211.1,481.9 L211.7,480.8 L212.3,479.6 L212.9,478.4 L213.5,477.0 L214.1,475.6 L214.7,474.1 L215.3,472.5 L215.9,470.8 L216.5,469.0 L217.1,467.2 L217.7,465.2 L218.3,463.3 L218.9,461.2 L219.5,459.1 L220.1,457.0 L220.7,454.9 L221.3,452.8 L221.9,450.6 L222.5,448.5 L223.1,446.5 L223.7,444.5 L224.3,442.5 L224.9,440.7 L225.5,438.9 L226.1,437.2 L226.7,435.7 L227.3,434.4 L227.9,433.1 L228.5,432.1 L229.1,431.2 L229.7,430.6 L230.3,430.1 L230.9,429.8 L231.5,429.7 L232.1,430.1 L232.7,431.4 L233.3,433.4 L233.9,436.0 L234.5,439.3 L235.1,443.0 L235.7,447.0 L236.3,451.3 L236.9,455.6 L237.5,459.8 L238.1,463.9 L238.7,467.8 L239.3,471.4 L239.9,474.7 L240.5,477.6 L241.1,480.2 L241.7,482.3 L242.3,484.2 L242.9,485.7 L243.5,487.0 L244.1,488.0 L244.7,488.8 L245.3,489.4 L245.9,489.9 L246.5,490.3 L247.1,490.5 L247.7,490.7 L248.3,490.9 L248.9,491.0 L249.5,491.1 L250.1,491.1 L250.8,491.1 L251.4,491.2 L252.0,491.2 L252.6,491.2 L253.2,491.2 L253.8,491.2 L254.4,491.2 L255.0,491.2 L255.6,491.2 L256.2,491.2 L256.8,491.2 L257.4,491.2 L258.0,491.2 L258.6,491.2 L259.2,491.2 L259.8,491.2 L260.4,491.2 L261.0,491.2 L261.6,491.2 L262.2,491.2 L262.8,491.2 L263.4,491.2 L264.0,491.2 L264.6,491.2 L265.2,491.2 L265.8,491.2 L266.4,491.2 L267.0,491.2 L267.6,491.2 L268.2,491.2 L268.8,491.2 L269.4,491.2 L270.0,491.2 L270.6,491.2 L271.2,491.2 L271.8,491.2 L272.4,491.2 L273.0,491.2 L273.6,491.2 L274.2,491.2 L274.8,491.2 L275.4,491.2 L276.0,491.2 L276.6,491.2 L277.2,491.2 L277.8,491.2 L278.4,491.2 L279.0,491.2 L279.6,491.2 L280.2,491.2 L280.8,491.2 L281.4,491.2 L282.0,491.2 L282.6,491.2 L283.2,491.2 L283.8,491.2 L284.4,491.2 L285.0,491.2 L285.6,491.2 L286.2,491.2 L286.8,491.2 L287.4,491.2 L288.0,491.2 L288.6,491.2 L289.2,491.2 L289.8,491.2 L290.4,491.2" fill="none" stroke="#4659a8" stroke-width="1.08" stroke-linejoin="round"/>
<path d="M209.9,486.1 L210.5,485.4 L211.1,484.7 L211.7,483.8 L212.3,482.9 L212.9,481.9 L213.5,480.9 L214.1,479.7 L214.7,478.4 L215.3,477.1 L215.9,475.6 L216.5,474.1 L217.1,472.5 L217.7,470.8 L218.3,469.0 L218.9,467.2 L219.5,465.2 L220.1,463.2 L220.7,461.2 L221.3,459.1 L221.9,457.0 L222.5,454.8 L223.1,452.6 L223.7,450.5 L224.3,448.3 L224.9,446.2 L225.5,444.2 L226.1,442.2 L226.7,440.3 L227.3,438.5 L227.9,436.8 L228.5,435.3 L229.1,433.9 L229.7,432.6 L230.3,431.5 L230.9,430.6 L231.5,429.9 L232.1,429.4 L232.7,429.0 L233.3,428.9 L233.9,429.2 L234.5,430.3 L235.1,432.1 L235.7,434.7 L236.3,437.8 L236.9,441.3 L237.5,445.3 L238.1,449.4 L238.7,453.7 L239.3,457.9 L239.9,462.1 L240.5,466.1 L241.1,469.7 L241.7,473.1 L242.3,476.2 L242.9,478.9 L243.5,481.2 L244.1,483.2 L244.7,484.9 L245.3,486.3 L245.9,487.4 L246.5,488.3 L247.1,489.0 L247.7,489.6 L248.3,490.0 L248.9,490.4 L249.5,490.6 L250.1,490.8 L250.8,490.9 L251.4,491.0 L252.0,491.1 L252.6,491.1 L253.2,491.1 L253.8,491.2 L254.4,491.2 L255.0,491.2 L255.6,491.2 L256.2,491.2 L256.8,491.2 L257.4,491.2 L258.0,491.2 L258.6,491.2 L259.2,491.2 L259.8,491.2 L260.4,491.2 L261.0,491.2 L261.6,491.2 L262.2,491.2 L262.8,491.2 L263.4,491.2 L264.0,491.2 L264.6,491.2 L265.2,491.2 L265.8,491.2 L266.4,491.2 L267.0,491.2 L267.6,491.2 L268.2,491.2 L268.8,491.2 L269.4,491.2 L270.0,491.2 L270.6,491.2 L271.2,491.2 L271.8,491.2 L272.4,491.2 L273.0,491.2 L273.6,491.2 L274.2,491.2 L274.8,491.2 L275.4,491.2 L276.0,491.2 L276.6,491.2 L277.2,491.2 L277.8,491.2 L278.4,491.2 L279.0,491.2 L279.6,491.2 L280.2,491.2 L280.8,491.2 L281.4,491.2 L282.0,491.2 L282.6,491.2 L283.2,491.2 L283.8,491.2 L284.4,491.2 L285.0,491.2 L285.6,491.2 L286.2,491.2 L286.8,491.2 L287.4,491.2 L288.0,491.2 L288.6,491.2 L289.2,491.2 L289.8,491.2 L290.4,491.2" fill="none" stroke="#d8392b" stroke-width="1.35" stroke-linejoin="round"/>
<path d="M209.9,491.2 L210.5,491.2 L211.1,491.2 L211.7,491.2 L212.3,491.2 L212.9,491.2 L213.5,491.2 L214.1,491.2 L214.7,491.2 L215.3,491.2 L215.9,491.2 L216.5,491.2 L217.1,491.2 L217.7,491.2 L218.3,491.2 L218.9,491.2 L219.5,491.2 L220.1,491.2 L220.7,491.2 L221.3,491.2 L221.9,491.2 L222.5,491.2 L223.1,491.2 L223.7,491.2 L224.3,491.2 L224.9,491.2 L225.5,491.2 L226.1,491.2 L226.7,491.2 L227.3,491.2 L227.9,491.2 L228.5,491.2 L229.1,491.2 L229.7,491.2 L230.3,491.2 L230.9,491.2 L231.5,491.2 L232.1,491.2 L232.7,491.2 L233.3,491.2 L233.9,491.2 L234.5,491.2 L235.1,491.2 L235.7,491.2 L236.3,491.2 L236.9,491.2 L237.5,491.2 L238.1,491.2 L238.7,491.2 L239.3,491.2 L239.9,491.2 L240.5,491.2 L241.1,491.2 L241.7,491.2 L242.3,491.2 L242.9,491.2 L243.5,491.2 L244.1,491.2 L244.7,491.2 L245.3,491.2 L245.9,491.2 L246.5,491.2 L247.1,491.2 L247.7,491.2 L248.3,491.2 L248.9,491.2 L249.5,491.2 L250.1,491.2 L250.8,491.2 L251.4,491.2 L252.0,491.2 L252.6,491.2 L253.2,491.2 L253.8,491.2 L254.4,491.2 L255.0,491.2 L255.6,491.2 L256.2,491.2 L256.8,491.2 L257.4,491.2 L258.0,491.2 L258.6,491.2 L259.2,491.2 L259.8,491.2 L260.4,491.2 L261.0,491.2 L261.6,491.2 L262.2,491.2 L262.8,491.2 L263.4,491.2 L264.0,491.2 L264.6,491.2 L265.2,491.2 L265.8,491.2 L266.4,490.6 L267.0,488.6 L267.6,487.0 L268.2,486.8 L268.8,484.8 L269.4,480.3 L270.0,476.1 L270.6,473.3 L271.2,471.8 L271.8,468.7 L272.4,463.2 L273.0,457.5 L273.6,453.8 L274.2,452.5 L274.8,450.6 L275.4,446.6 L276.0,445.5 L276.6,446.2 L277.2,448.0 L277.8,449.1 L278.4,450.7 L279.0,449.9 L279.6,445.6 L280.2,441.7 L280.8,440.1 L281.4,438.3 L282.0,435.9 L282.6,437.9 L283.2,443.2 L283.8,445.4 L284.4,455.0 L285.0,461.8 L285.6,470.6 L286.2,481.6 L286.8,486.3 L287.4,491.2 L288.0,491.2 L288.6,491.2 L289.2,491.2 L289.8,491.2 L290.4,491.2" fill="none" stroke="#000000" stroke-width="1.45" stroke-linejoin="round"/>
<line x1="210.4" y1="414.3" x2="210.4" y2="491.2" stroke="#d8392b" stroke-width="1.4"/>
<path d="M209.1,414.3H290.4V491.2" fill="none" stroke="#5a5a5a" stroke-width="0.9"/>
<line x1="209.9" y1="414.3" x2="209.9" y2="491.2" stroke="#5a5a5a" stroke-width="0.9"/>
<line x1="209.4" y1="491.2" x2="290.9" y2="491.2" stroke="#111" stroke-width="1"/>
<path d="M209.9,491.2v2.0M216.0,491.2v1.1M219.5,491.2v1.1M222.0,491.2v1.1M224.0,491.2v1.1M225.6,491.2v1.1M226.9,491.2v1.1M228.1,491.2v1.1M229.1,491.2v1.1M230.0,491.2v2.0M236.1,491.2v1.1M239.6,491.2v1.1M242.1,491.2v1.1M244.1,491.2v1.1M245.7,491.2v1.1M247.0,491.2v1.1M248.2,491.2v1.1M249.2,491.2v1.1M250.1,491.2v2.0M256.2,491.2v1.1M259.8,491.2v1.1M262.3,491.2v1.1M264.2,491.2v1.1M265.8,491.2v1.1M267.2,491.2v1.1M268.3,491.2v1.1M269.4,491.2v1.1M270.3,491.2v2.0M276.3,491.2v1.1M279.9,491.2v1.1M282.4,491.2v1.1M284.3,491.2v1.1M285.9,491.2v1.1M287.3,491.2v1.1M288.4,491.2v1.1M289.5,491.2v1.1M290.4,491.2v2" stroke="#222" stroke-width="0.6"/>
<path d="M209.9,488.0h-1.1M209.9,484.8h-1.1M209.9,481.6h-1.1M209.9,478.4h-1.1M209.9,475.2h-1.1M209.9,472.0h-1.1M209.9,468.8h-1.1M209.9,465.6h-1.1M209.9,462.4h-1.1M209.9,459.2h-1.1M209.9,456.0h-1.1M209.9,452.8h-1.1M209.9,449.6h-1.1M209.9,446.4h-1.1M209.9,443.2h-1.1M209.9,440.0h-1.1M209.9,436.8h-1.1M209.9,433.6h-1.1M209.9,430.4h-1.1M209.9,427.2h-1.1M209.9,424.0h-1.1M209.9,420.8h-1.1M209.9,417.6h-1.1" stroke="#555" stroke-width="0.7"/>
<text x="253.6" y="423.6" font-size="7.6" text-anchor="middle" font-family="Liberation Sans, sans-serif" stroke="#000" stroke-width="0.28"><tspan fill="#6f786f" stroke="#6f786f">7</tspan><tspan fill="#6f786f" stroke="#6f786f">/</tspan><tspan fill="#96c85e" stroke="#96c85e">8</tspan><tspan fill="#96c85e" stroke="#96c85e">/</tspan><tspan fill="#4659a8" stroke="#4659a8">9</tspan><tspan fill="#4659a8" stroke="#4659a8">/</tspan><tspan fill="#d8392b" stroke="#d8392b">11</tspan><tspan fill="#000000" stroke="#000000">/</tspan><tspan fill="#000000" stroke="#000000">2395</tspan></text>
<text x="206.8" y="501.8" font-size="7.2" font-family="Liberation Sans, sans-serif" stroke="#000" stroke-width="0.28">10<tspan dx="0.2" dy="-3.2" font-size="5.8" stroke-width="0.12">0</tspan></text>
<text x="226.2" y="501.8" font-size="7.2" font-family="Liberation Sans, sans-serif" stroke="#000" stroke-width="0.28">10<tspan dx="0.2" dy="-3.2" font-size="5.8" stroke-width="0.12">1</tspan></text>
<text x="245.5" y="501.8" font-size="7.2" font-family="Liberation Sans, sans-serif" stroke="#000" stroke-width="0.28">10<tspan dx="0.2" dy="-3.2" font-size="5.8" stroke-width="0.12">2</tspan></text>
<text x="264.8" y="501.8" font-size="7.2" font-family="Liberation Sans, sans-serif" stroke="#000" stroke-width="0.28">10<tspan dx="0.2" dy="-3.2" font-size="5.8" stroke-width="0.12">3</tspan></text>
<text x="284.1" y="501.8" font-size="7.2" font-family="Liberation Sans, sans-serif" stroke="#000" stroke-width="0.28">10<tspan dx="0.2" dy="-3.2" font-size="5.8" stroke-width="0.12">4</tspan></text>
<line x1="209.9" y1="509.6" x2="287.4" y2="509.6" stroke="#000" stroke-width="1.2"/>
<path d="M291.4,509.6 L284.9,507.4 L284.9,511.8Z" fill="#000"/>
<text x="250.1" y="522.4" font-size="8.6" text-anchor="middle" font-family="Liberation Sans, sans-serif" stroke="#000" stroke-width="0.28">PNA</text>
<path d="M303.2,486.4 L303.8,485.6 L304.4,484.7 L305.0,483.6 L305.6,482.5 L306.2,481.2 L306.8,479.8 L307.4,478.2 L308.0,476.5 L308.6,474.7 L309.2,472.8 L309.8,470.7 L310.4,468.5 L311.0,466.2 L311.7,463.8 L312.3,461.4 L312.9,458.8 L313.5,456.3 L314.1,453.7 L314.7,451.1 L315.3,448.6 L315.9,446.1 L316.5,443.7 L317.1,441.5 L317.7,439.4 L318.3,437.5 L318.9,435.8 L319.5,434.4 L320.1,433.2 L320.7,432.3 L321.3,431.6 L321.9,431.3 L322.5,431.3 L323.1,432.5 L323.7,434.9 L324.3,438.5 L324.9,442.9 L325.5,448.0 L326.1,453.4 L326.7,458.9 L327.4,464.2 L328.0,469.1 L328.6,473.6 L329.2,477.4 L329.8,480.7 L330.4,483.4 L331.0,485.5 L331.6,487.1 L332.2,488.4 L332.8,489.3 L333.4,489.9 L334.0,490.4 L334.6,490.7 L335.2,490.9 L335.8,491.0 L336.4,491.1 L337.0,491.1 L337.6,491.2 L338.2,491.2 L338.8,491.2 L339.4,491.2 L340.0,491.2 L340.6,491.2 L341.2,491.2 L341.8,491.2 L342.4,491.2 L343.0,491.2 L343.7,491.2 L344.3,491.2 L344.9,491.2 L345.5,491.2 L346.1,491.2 L346.7,491.2 L347.3,491.2 L347.9,491.2 L348.5,491.2 L349.1,491.2 L349.7,491.2 L350.3,491.2 L350.9,491.2 L351.5,491.2 L352.1,491.2 L352.7,491.2 L353.3,491.2 L353.9,491.2 L354.5,491.2 L355.1,491.2 L355.7,491.2 L356.3,491.2 L356.9,491.2 L357.5,491.2 L358.1,491.2 L358.7,491.2 L359.3,491.2 L360.0,491.2 L360.6,491.2 L361.2,491.2 L361.8,491.2 L362.4,491.2 L363.0,491.2 L363.6,491.2 L364.2,491.2 L364.8,491.2 L365.4,491.2 L366.0,491.2 L366.6,491.2 L367.2,491.2 L367.8,491.2 L368.4,491.2 L369.0,491.2 L369.6,491.2 L370.2,491.2 L370.8,491.2 L371.4,491.2 L372.0,491.2 L372.6,491.2 L373.2,491.2 L373.8,491.2 L374.4,491.2 L375.0,491.2 L375.7,491.2 L376.3,491.2 L376.9,491.2 L377.5,491.2 L378.1,491.2 L378.7,491.2 L379.3,491.2 L379.9,491.2 L380.5,491.2 L381.1,491.2 L381.7,491.2 L382.3,491.2 L382.9,491.2 L383.5,491.2 L383.5,491.2 L303.2,491.2Z" fill="#dadada" stroke="#606060" stroke-width="1.0" stroke-linejoin="round"/>
<path d="M303.2,486.4 L303.8,485.6 L304.4,484.7 L305.0,483.6 L305.6,482.5 L306.2,481.2 L306.8,479.8 L307.4,478.2 L308.0,476.5 L308.6,474.7 L309.2,472.8 L309.8,470.7 L310.4,468.5 L311.0,466.2 L311.7,463.8 L312.3,461.4 L312.9,458.8 L313.5,456.3 L314.1,453.7 L314.7,451.1 L315.3,448.6 L315.9,446.1 L316.5,443.7 L317.1,441.5 L317.7,439.4 L318.3,437.5 L318.9,435.8 L319.5,434.4 L320.1,433.2 L320.7,432.3 L321.3,431.6 L321.9,431.3 L322.5,431.3 L323.1,432.4 L323.7,434.6 L324.3,437.8 L324.9,441.9 L325.5,446.6 L326.1,451.7 L326.7,457.0 L327.4,462.1 L328.0,467.0 L328.6,471.4 L329.2,475.4 L329.8,478.8 L330.4,481.7 L331.0,484.1 L331.6,486.0 L332.2,487.4 L332.8,488.5 L333.4,489.4 L334.0,490.0 L334.6,490.4 L335.2,490.7 L335.8,490.9 L336.4,491.0 L337.0,491.1 L337.6,491.1 L338.2,491.2 L338.8,491.2 L339.4,491.2 L340.0,491.2 L340.6,491.2 L341.2,491.2 L341.8,491.2 L342.4,491.2 L343.0,491.2 L343.7,491.2 L344.3,491.2 L344.9,491.2 L345.5,491.2 L346.1,491.2 L346.7,491.2 L347.3,491.2 L347.9,491.2 L348.5,491.2 L349.1,491.2 L349.7,491.2 L350.3,491.2 L350.9,491.2 L351.5,491.2 L352.1,491.2 L352.7,491.2 L353.3,491.2 L353.9,491.2 L354.5,491.2 L355.1,491.2 L355.7,491.2 L356.3,491.2 L356.9,491.2 L357.5,491.2 L358.1,491.2 L358.7,491.2 L359.3,491.2 L360.0,491.2 L360.6,491.2 L361.2,491.2 L361.8,491.2 L362.4,491.2 L363.0,491.2 L363.6,491.2 L364.2,491.2 L364.8,491.2 L365.4,491.2 L366.0,491.2 L366.6,491.2 L367.2,491.2 L367.8,491.2 L368.4,491.2 L369.0,491.2 L369.6,491.2 L370.2,491.2 L370.8,491.2 L371.4,491.2 L372.0,491.2 L372.6,491.2 L373.2,491.2 L373.8,491.2 L374.4,491.2 L375.0,491.2 L375.7,491.2 L376.3,491.2 L376.9,491.2 L377.5,491.2 L378.1,491.2 L378.7,491.2 L379.3,491.2 L379.9,491.2 L380.5,491.2 L381.1,491.2 L381.7,491.2 L382.3,491.2 L382.9,491.2 L383.5,491.2" fill="none" stroke="#7cbf4a" stroke-width="1.08" stroke-linejoin="round"/>
<path d="M303.2,489.3 L303.8,489.0 L304.4,488.5 L305.0,488.0 L305.6,487.4 L306.2,486.7 L306.8,486.0 L307.4,485.1 L308.0,484.1 L308.6,483.0 L309.2,481.8 L309.8,480.4 L310.4,479.0 L311.0,477.3 L311.7,475.6 L312.3,473.7 L312.9,471.7 L313.5,469.6 L314.1,467.3 L314.7,465.0 L315.3,462.5 L315.9,460.0 L316.5,457.5 L317.1,454.9 L317.7,452.3 L318.3,449.7 L318.9,447.2 L319.5,444.8 L320.1,442.5 L320.7,440.4 L321.3,438.4 L321.9,436.6 L322.5,435.0 L323.1,433.7 L323.7,432.7 L324.3,431.9 L324.9,431.4 L325.5,431.2 L326.1,431.4 L326.7,432.2 L327.4,433.6 L328.0,435.4 L328.6,437.7 L329.2,440.3 L329.8,443.3 L330.4,446.6 L331.0,450.0 L331.6,453.5 L332.2,457.0 L332.8,460.5 L333.4,463.9 L334.0,467.2 L334.6,470.3 L335.2,473.1 L335.8,475.7 L336.4,478.1 L337.0,480.2 L337.6,482.0 L338.2,483.6 L338.8,485.0 L339.4,486.2 L340.0,487.2 L340.6,488.0 L341.2,488.7 L341.8,489.3 L342.4,489.7 L343.0,490.1 L343.7,490.3 L344.3,490.6 L344.9,490.7 L345.5,490.8 L346.1,490.9 L346.7,491.0 L347.3,491.1 L347.9,491.1 L348.5,491.1 L349.1,491.2 L349.7,491.2 L350.3,491.2 L350.9,491.2 L351.5,491.2 L352.1,491.2 L352.7,491.2 L353.3,491.2 L353.9,491.2 L354.5,491.2 L355.1,491.2 L355.7,491.2 L356.3,491.2 L356.9,491.2 L357.5,491.2 L358.1,491.2 L358.7,491.2 L359.3,491.2 L360.0,491.2 L360.6,491.2 L361.2,491.2 L361.8,491.2 L362.4,491.2 L363.0,491.2 L363.6,491.2 L364.2,491.2 L364.8,491.2 L365.4,491.2 L366.0,491.2 L366.6,491.2 L367.2,491.2 L367.8,491.2 L368.4,491.2 L369.0,491.2 L369.6,491.2 L370.2,491.2 L370.8,491.2 L371.4,491.2 L372.0,491.2 L372.6,491.2 L373.2,491.2 L373.8,491.2 L374.4,491.2 L375.0,491.2 L375.7,491.2 L376.3,491.2 L376.9,491.2 L377.5,491.2 L378.1,491.2 L378.7,491.2 L379.3,491.2 L379.9,491.2 L380.5,491.2 L381.1,491.2 L381.7,491.2 L382.3,491.2 L382.9,491.2 L383.5,491.2" fill="none" stroke="#4659a8" stroke-width="1.08" stroke-linejoin="round"/>
<path d="M303.2,490.2 L303.8,489.9 L304.4,489.7 L305.0,489.4 L305.6,489.0 L306.2,488.6 L306.8,488.2 L307.4,487.6 L308.0,487.0 L308.6,486.3 L309.2,485.5 L309.8,484.7 L310.4,483.7 L311.0,482.6 L311.7,481.4 L312.3,480.1 L312.9,478.6 L313.5,477.1 L314.1,475.4 L314.7,473.6 L315.3,471.6 L315.9,469.6 L316.5,467.5 L317.1,465.2 L317.7,462.9 L318.3,460.5 L318.9,458.0 L319.5,455.5 L320.1,453.0 L320.7,450.5 L321.3,448.1 L321.9,445.7 L322.5,443.3 L323.1,441.1 L323.7,439.0 L324.3,437.1 L324.9,435.4 L325.5,433.8 L326.1,432.5 L326.7,431.4 L327.4,430.6 L328.0,430.0 L328.6,429.7 L329.2,429.7 L329.8,430.2 L330.4,431.2 L331.0,432.6 L331.6,434.5 L332.2,436.8 L332.8,439.5 L333.4,442.4 L334.0,445.5 L334.6,448.8 L335.2,452.2 L335.8,455.6 L336.4,459.0 L337.0,462.3 L337.6,465.5 L338.2,468.5 L338.8,471.3 L339.4,474.0 L340.0,476.4 L340.6,478.5 L341.2,480.5 L341.8,482.2 L342.4,483.7 L343.0,485.0 L343.7,486.1 L344.3,487.1 L344.9,487.9 L345.5,488.6 L346.1,489.1 L346.7,489.6 L347.3,489.9 L347.9,490.2 L348.5,490.4 L349.1,490.6 L349.7,490.8 L350.3,490.9 L350.9,491.0 L351.5,491.0 L352.1,491.1 L352.7,491.1 L353.3,491.1 L353.9,491.2 L354.5,491.2 L355.1,491.2 L355.7,491.2 L356.3,491.2 L356.9,491.2 L357.5,491.2 L358.1,491.2 L358.7,491.2 L359.3,491.2 L360.0,491.2 L360.6,491.2 L361.2,491.2 L361.8,491.2 L362.4,491.2 L363.0,491.2 L363.6,491.2 L364.2,491.2 L364.8,491.2 L365.4,491.2 L366.0,491.2 L366.6,491.2 L367.2,491.2 L367.8,491.2 L368.4,491.2 L369.0,491.2 L369.6,491.2 L370.2,491.2 L370.8,491.2 L371.4,491.2 L372.0,491.2 L372.6,491.2 L373.2,491.2 L373.8,491.2 L374.4,491.2 L375.0,491.2 L375.7,491.2 L376.3,491.2 L376.9,491.2 L377.5,491.2 L378.1,491.2 L378.7,491.2 L379.3,491.2 L379.9,491.2 L380.5,491.2 L381.1,491.2 L381.7,491.2 L382.3,491.2 L382.9,491.2 L383.5,491.2" fill="none" stroke="#d8392b" stroke-width="1.22" stroke-linejoin="round"/>
<path d="M303.2,488.6 L303.8,488.2 L304.4,487.4 L305.0,486.6 L305.6,485.7 L306.2,485.0 L306.8,484.1 L307.4,483.1 L308.0,481.7 L308.6,480.3 L309.2,478.7 L309.8,477.5 L310.4,475.7 L311.0,473.6 L311.7,471.8 L312.3,468.8 L312.9,466.3 L313.5,464.3 L314.1,461.6 L314.7,459.0 L315.3,457.2 L315.9,454.2 L316.5,451.4 L317.1,449.2 L317.7,446.0 L318.3,443.6 L318.9,441.6 L319.5,438.9 L320.1,437.2 L320.7,435.4 L321.3,434.4 L321.9,433.2 L322.5,431.7 L323.1,431.1 L323.7,431.0 L324.3,431.5 L324.9,431.9 L325.5,433.5 L326.1,435.3 L326.7,437.3 L327.4,440.0 L328.0,443.5 L328.6,446.6 L329.2,450.6 L329.8,454.3 L330.4,458.5 L331.0,461.7 L331.6,465.9 L332.2,469.6 L332.8,472.4 L333.4,475.2 L334.0,477.7 L334.6,480.1 L335.2,482.2 L335.8,483.9 L336.4,485.2 L337.0,486.5 L337.6,487.4 L338.2,488.2 L338.8,488.9 L339.4,489.5 L340.0,489.8 L340.6,490.3 L341.2,490.7 L341.8,490.9 L342.4,490.8 L343.0,491.0 L343.7,491.1 L344.3,491.1 L344.9,491.0 L345.5,491.0 L346.1,491.0 L346.7,491.2 L347.3,491.1 L347.9,491.1 L348.5,491.1 L349.1,491.1 L349.7,491.2 L350.3,491.1 L350.9,491.1 L351.5,491.2 L352.1,491.2 L352.7,491.2 L353.3,491.2 L353.9,491.2 L354.5,491.2 L355.1,491.2 L355.7,491.2 L356.3,491.2 L356.9,491.2 L357.5,491.2 L358.1,491.2 L358.7,491.2 L359.3,491.2 L360.0,491.2 L360.6,491.2 L361.2,491.2 L361.8,491.2 L362.4,491.2 L363.0,491.2 L363.6,491.2 L364.2,491.2 L364.8,491.2 L365.4,491.2 L366.0,491.2 L366.6,491.2 L367.2,491.2 L367.8,491.2 L368.4,491.2 L369.0,491.2 L369.6,491.2 L370.2,491.2 L370.8,491.2 L371.4,491.2 L372.0,491.2 L372.6,491.2 L373.2,491.2 L373.8,491.2 L374.4,491.2 L375.0,491.2 L375.7,491.2 L376.3,491.1 L376.9,491.2 L377.5,491.2 L378.1,491.2 L378.7,491.2 L379.3,491.2 L379.9,491.2 L380.5,491.2 L381.1,491.2 L381.7,491.2 L382.3,491.2 L382.9,491.0 L383.5,491.2" fill="none" stroke="#000000" stroke-width="1.45" stroke-linejoin="round"/>
<line x1="303.7" y1="414.3" x2="303.7" y2="491.2" stroke="#000000" stroke-width="1.4"/>
<path d="M302.4,414.3H383.5V491.2" fill="none" stroke="#5a5a5a" stroke-width="0.9"/>
<line x1="303.2" y1="414.3" x2="303.2" y2="491.2" stroke="#5a5a5a" stroke-width="0.9"/>
<line x1="302.7" y1="491.2" x2="384.0" y2="491.2" stroke="#111" stroke-width="1"/>
<path d="M303.2,491.2v2.0M309.2,491.2v1.1M312.8,491.2v1.1M315.3,491.2v1.1M317.2,491.2v1.1M318.8,491.2v1.1M320.2,491.2v1.1M321.3,491.2v1.1M322.4,491.2v1.1M323.3,491.2v2.0M329.3,491.2v1.1M332.9,491.2v1.1M335.4,491.2v1.1M337.3,491.2v1.1M338.9,491.2v1.1M340.2,491.2v1.1M341.4,491.2v1.1M342.4,491.2v1.1M343.4,491.2v2.0M349.4,491.2v1.1M352.9,491.2v1.1M355.4,491.2v1.1M357.4,491.2v1.1M359.0,491.2v1.1M360.3,491.2v1.1M361.5,491.2v1.1M362.5,491.2v1.1M363.4,491.2v2.0M369.5,491.2v1.1M373.0,491.2v1.1M375.5,491.2v1.1M377.5,491.2v1.1M379.0,491.2v1.1M380.4,491.2v1.1M381.6,491.2v1.1M382.6,491.2v1.1M383.5,491.2v2" stroke="#222" stroke-width="0.6"/>
<path d="M303.2,488.0h-1.1M303.2,484.8h-1.1M303.2,481.6h-1.1M303.2,478.4h-1.1M303.2,475.2h-1.1M303.2,472.0h-1.1M303.2,468.8h-1.1M303.2,465.6h-1.1M303.2,462.4h-1.1M303.2,459.2h-1.1M303.2,456.0h-1.1M303.2,452.8h-1.1M303.2,449.6h-1.1M303.2,446.4h-1.1M303.2,443.2h-1.1M303.2,440.0h-1.1M303.2,436.8h-1.1M303.2,433.6h-1.1M303.2,430.4h-1.1M303.2,427.2h-1.1M303.2,424.0h-1.1M303.2,420.8h-1.1M303.2,417.6h-1.1" stroke="#555" stroke-width="0.7"/>
<text x="346.0" y="423.6" font-size="7.6" text-anchor="middle" font-family="Liberation Sans, sans-serif" stroke="#000" stroke-width="0.28"><tspan fill="#6f786f" stroke="#6f786f">12</tspan><tspan fill="#6f786f" stroke="#6f786f">/</tspan><tspan fill="#96c85e" stroke="#96c85e">8</tspan><tspan fill="#96c85e" stroke="#96c85e">/</tspan><tspan fill="#4659a8" stroke="#4659a8">11</tspan><tspan fill="#4659a8" stroke="#4659a8">/</tspan><tspan fill="#d8392b" stroke="#d8392b">15</tspan><tspan fill="#000000" stroke="#000000">/</tspan><tspan fill="#000000" stroke="#000000">9</tspan></text>
<text x="300.1" y="501.8" font-size="7.2" font-family="Liberation Sans, sans-serif" stroke="#000" stroke-width="0.28">10<tspan dx="0.2" dy="-3.2" font-size="5.8" stroke-width="0.12">0</tspan></text>
<text x="319.4" y="501.8" font-size="7.2" font-family="Liberation Sans, sans-serif" stroke="#000" stroke-width="0.28">10<tspan dx="0.2" dy="-3.2" font-size="5.8" stroke-width="0.12">1</tspan></text>
<text x="338.7" y="501.8" font-size="7.2" font-family="Liberation Sans, sans-serif" stroke="#000" stroke-width="0.28">10<tspan dx="0.2" dy="-3.2" font-size="5.8" stroke-width="0.12">2</tspan></text>
<text x="358.0" y="501.8" font-size="7.2" font-family="Liberation Sans, sans-serif" stroke="#000" stroke-width="0.28">10<tspan dx="0.2" dy="-3.2" font-size="5.8" stroke-width="0.12">3</tspan></text>
<text x="377.2" y="501.8" font-size="7.2" font-family="Liberation Sans, sans-serif" stroke="#000" stroke-width="0.28">10<tspan dx="0.2" dy="-3.2" font-size="5.8" stroke-width="0.12">4</tspan></text>
<line x1="303.2" y1="509.6" x2="380.5" y2="509.6" stroke="#000" stroke-width="1.2"/>
<path d="M384.5,509.6 L378.0,507.4 L378.0,511.8Z" fill="#000"/>
<text x="343.4" y="522.4" font-size="8.6" text-anchor="middle" font-family="Liberation Sans, sans-serif" stroke="#000" stroke-width="0.28">SNA</text>
<rect x="390.7" y="328.30" width="7.8" height="5.1" fill="#cfcfcf" stroke="#3a3a3a" stroke-width="1.2"/>
<text x="402.3" y="333.80" font-size="7.7" font-family="Liberation Sans, sans-serif" stroke="#000" stroke-width="0.28"><tspan font-style="italic">WT</tspan></text>
<rect x="390.7" y="338.48" width="7.8" height="5.1" fill="#fff" stroke="#4659a8" stroke-width="1.2"/>
<text x="402.3" y="343.98" font-size="7.7" font-family="Liberation Sans, sans-serif" stroke="#000" stroke-width="0.28"><tspan font-style="italic">St3gal4</tspan><tspan dx="0.4" dy="-3.2" font-size="6.1" letter-spacing="0.3" font-style="italic">Δ/Δ</tspan></text>
<rect x="390.7" y="348.66" width="7.8" height="5.1" fill="#fff" stroke="#7cbf4a" stroke-width="1.2"/>
<text x="402.3" y="354.16" font-size="7.7" font-family="Liberation Sans, sans-serif" stroke="#000" stroke-width="0.28"><tspan font-style="italic">St3gal6</tspan><tspan dx="0.4" dy="-3.2" font-size="6.1" letter-spacing="0.3" font-style="italic">Δ/Δ</tspan></text>
<rect x="390.7" y="358.84" width="7.8" height="5.1" fill="#fff" stroke="#d8392b" stroke-width="1.2"/>
<text x="402.3" y="364.34" font-size="7.7" font-family="Liberation Sans, sans-serif" stroke="#000" stroke-width="0.28"><tspan font-style="italic">St3gal4</tspan><tspan dx="0.4" dy="-3.2" font-size="6.1" letter-spacing="0.3" font-style="italic">Δ/Δ</tspan><tspan dy="3.2"> </tspan><tspan font-style="italic">St3gal6</tspan><tspan dx="0.4" dy="-3.2" font-size="6.1" letter-spacing="0.3" font-style="italic">Δ/Δ</tspan></text>
<rect x="390.7" y="369.02" width="7.8" height="5.1" fill="#fff" stroke="#000000" stroke-width="1.2"/>
<text x="402.3" y="374.52" font-size="7.7" font-family="Liberation Sans, sans-serif" stroke="#000" stroke-width="0.28"><tspan font-style="italic">St3gal4</tspan><tspan dx="0.4" dy="-3.2" font-size="6.1" letter-spacing="0.3" font-style="italic">Δ/Δ</tspan><tspan dy="3.2"> </tspan><tspan font-style="italic">St3gal6</tspan><tspan dx="0.4" dy="-3.2" font-size="6.1" letter-spacing="0.3" font-style="italic">Δ/Δ</tspan><tspan dy="3.2" font-size="7.5"> + sialidase</tspan></text>
</g>
</svg></body></html>
